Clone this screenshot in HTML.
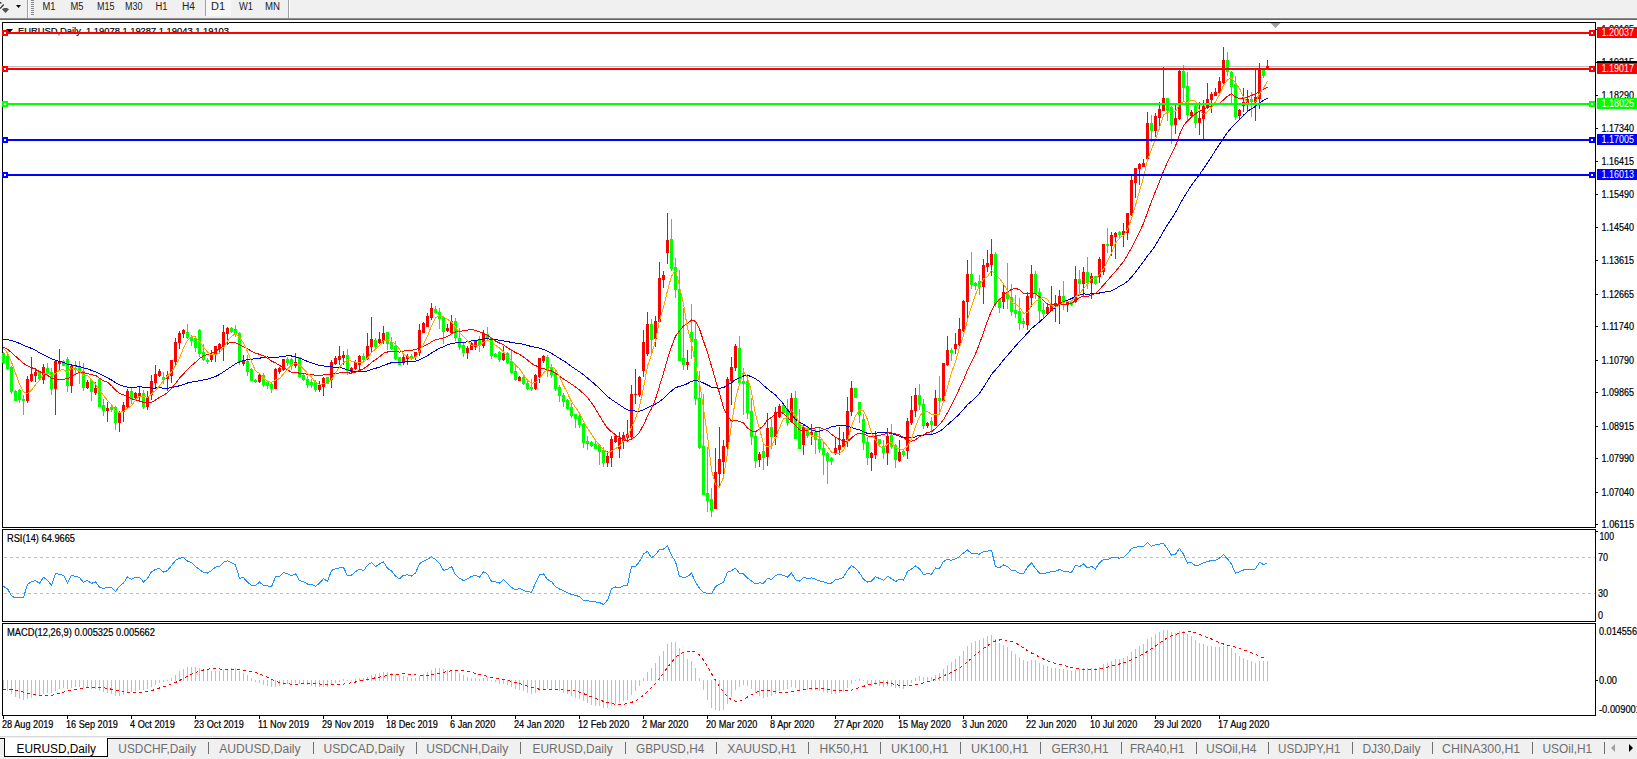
<!DOCTYPE html>
<html><head><meta charset="utf-8"><title>EURUSD,Daily</title>
<style>html,body{margin:0;padding:0;background:#fff;overflow:hidden;width:1637px;height:759px;font-family:"Liberation Sans", sans-serif;} svg{display:block;}</style>
</head><body>
<svg width="1637" height="759" viewBox="0 0 1637 759" font-family='"Liberation Sans", sans-serif'><rect x="0" y="0" width="1637" height="18" fill="#f0f0f0" />
<rect x="0" y="18" width="1637" height="1" fill="#8c8c8c" />
<rect x="0" y="19" width="1637" height="1" fill="#666666" />
<rect x="0" y="20" width="1637" height="2" fill="#ffffff" />
<path d="M0 1.8 L1.2 2.2 L2 3.5 L0 3.5 Z" fill="#333"/>
<path d="M3.2 3.9 L4.2 4.9 L0.6 9 L0 8.3 L0 7.8 Z" fill="#333"/>
<path d="M2 9.3 L4 8 L7 8 L9 9.3 L5.5 13 Z" fill="#505050"/>
<path d="M16 5 L21 5 L18.5 8 Z" fill="#000"/>
<rect x="27" y="0" width="1" height="18" fill="#a0a0a0" />
<rect x="28" y="0" width="1" height="18" fill="#ffffff" />
<rect x="31" y="0" width="3" height="1" fill="#8a8a8a" />
<rect x="31" y="2" width="3" height="1" fill="#8a8a8a" />
<rect x="31" y="4" width="3" height="1" fill="#8a8a8a" />
<rect x="31" y="6" width="3" height="1" fill="#8a8a8a" />
<rect x="31" y="8" width="3" height="1" fill="#8a8a8a" />
<rect x="31" y="10" width="3" height="1" fill="#8a8a8a" />
<rect x="31" y="12" width="3" height="1" fill="#8a8a8a" />
<rect x="31" y="14" width="3" height="1" fill="#8a8a8a" />
<rect x="205" y="0" width="26" height="16" fill="#f7f7f7" />
<rect x="205" y="0" width="1" height="16" fill="#a0a0a0" />
<text x="42.5" y="10.4" font-size="10" fill="#222" textLength="13" lengthAdjust="spacingAndGlyphs" >M1</text>
<text x="70.5" y="10.4" font-size="10" fill="#222" textLength="13" lengthAdjust="spacingAndGlyphs" >M5</text>
<text x="97" y="10.4" font-size="10" fill="#222" textLength="17.5" lengthAdjust="spacingAndGlyphs" >M15</text>
<text x="125" y="10.4" font-size="10" fill="#222" textLength="17.5" lengthAdjust="spacingAndGlyphs" >M30</text>
<text x="155.5" y="10.4" font-size="10" fill="#222" textLength="12" lengthAdjust="spacingAndGlyphs" >H1</text>
<text x="182" y="10.4" font-size="10" fill="#222" textLength="13" lengthAdjust="spacingAndGlyphs" >H4</text>
<text x="211" y="10.4" font-size="10" fill="#222" textLength="14" lengthAdjust="spacingAndGlyphs" >D1</text>
<text x="239" y="10.4" font-size="10" fill="#222" textLength="14" lengthAdjust="spacingAndGlyphs" >W1</text>
<text x="265" y="10.4" font-size="10" fill="#222" textLength="15" lengthAdjust="spacingAndGlyphs" >MN</text>
<rect x="288" y="0" width="1" height="18" fill="#a0a0a0" />
<rect x="289" y="0" width="1" height="18" fill="#ffffff" />
<rect x="2" y="22" width="1594" height="1" fill="#000" />
<rect x="2" y="527" width="1594" height="1" fill="#000" />
<rect x="2" y="22" width="1" height="506" fill="#000" />
<rect x="1595" y="22" width="1" height="506" fill="#000" />
<rect x="2" y="529" width="1594" height="1" fill="#000" />
<rect x="2" y="621" width="1594" height="1" fill="#000" />
<rect x="2" y="529" width="1" height="93" fill="#000" />
<rect x="1595" y="529" width="1" height="93" fill="#000" />
<rect x="2" y="623" width="1594" height="1" fill="#000" />
<rect x="2" y="715" width="1594" height="1" fill="#000" />
<rect x="2" y="623" width="1" height="93" fill="#000" />
<rect x="1595" y="623" width="1" height="93" fill="#000" />
<rect x="3" y="66" width="1592" height="1" fill="#c0c0c0" />
<rect x="1596" y="29" width="2" height="1" fill="#000" />
<text x="1601.5" y="33" font-size="10" fill="#000" stroke="#000" stroke-width="0.2" textLength="32.5" lengthAdjust="spacingAndGlyphs" >1.20165</text>
<rect x="1596" y="62" width="2" height="1" fill="#000" />
<text x="1601.5" y="66" font-size="10" fill="#000" stroke="#000" stroke-width="0.2" textLength="32.5" lengthAdjust="spacingAndGlyphs" >1.19215</text>
<rect x="1596" y="95" width="2" height="1" fill="#000" />
<text x="1601.5" y="99" font-size="10" fill="#000" stroke="#000" stroke-width="0.2" textLength="32.5" lengthAdjust="spacingAndGlyphs" >1.18290</text>
<rect x="1596" y="128" width="2" height="1" fill="#000" />
<text x="1601.5" y="132" font-size="10" fill="#000" stroke="#000" stroke-width="0.2" textLength="32.5" lengthAdjust="spacingAndGlyphs" >1.17340</text>
<rect x="1596" y="161" width="2" height="1" fill="#000" />
<text x="1601.5" y="165" font-size="10" fill="#000" stroke="#000" stroke-width="0.2" textLength="32.5" lengthAdjust="spacingAndGlyphs" >1.16415</text>
<rect x="1596" y="194" width="2" height="1" fill="#000" />
<text x="1601.5" y="198" font-size="10" fill="#000" stroke="#000" stroke-width="0.2" textLength="32.5" lengthAdjust="spacingAndGlyphs" >1.15490</text>
<rect x="1596" y="227" width="2" height="1" fill="#000" />
<text x="1601.5" y="231" font-size="10" fill="#000" stroke="#000" stroke-width="0.2" textLength="32.5" lengthAdjust="spacingAndGlyphs" >1.14540</text>
<rect x="1596" y="260" width="2" height="1" fill="#000" />
<text x="1601.5" y="264" font-size="10" fill="#000" stroke="#000" stroke-width="0.2" textLength="32.5" lengthAdjust="spacingAndGlyphs" >1.13615</text>
<rect x="1596" y="294" width="2" height="1" fill="#000" />
<text x="1601.5" y="298" font-size="10" fill="#000" stroke="#000" stroke-width="0.2" textLength="32.5" lengthAdjust="spacingAndGlyphs" >1.12665</text>
<rect x="1596" y="326" width="2" height="1" fill="#000" />
<text x="1601.5" y="330" font-size="10" fill="#000" stroke="#000" stroke-width="0.2" textLength="32.5" lengthAdjust="spacingAndGlyphs" >1.11740</text>
<rect x="1596" y="360" width="2" height="1" fill="#000" />
<text x="1601.5" y="364" font-size="10" fill="#000" stroke="#000" stroke-width="0.2" textLength="32.5" lengthAdjust="spacingAndGlyphs" >1.10790</text>
<rect x="1596" y="392" width="2" height="1" fill="#000" />
<text x="1601.5" y="396" font-size="10" fill="#000" stroke="#000" stroke-width="0.2" textLength="32.5" lengthAdjust="spacingAndGlyphs" >1.09865</text>
<rect x="1596" y="426" width="2" height="1" fill="#000" />
<text x="1601.5" y="430" font-size="10" fill="#000" stroke="#000" stroke-width="0.2" textLength="32.5" lengthAdjust="spacingAndGlyphs" >1.08915</text>
<rect x="1596" y="458" width="2" height="1" fill="#000" />
<text x="1601.5" y="462" font-size="10" fill="#000" stroke="#000" stroke-width="0.2" textLength="32.5" lengthAdjust="spacingAndGlyphs" >1.07990</text>
<rect x="1596" y="492" width="2" height="1" fill="#000" />
<text x="1601.5" y="496" font-size="10" fill="#000" stroke="#000" stroke-width="0.2" textLength="32.5" lengthAdjust="spacingAndGlyphs" >1.07040</text>
<rect x="1596" y="524" width="2" height="1" fill="#000" />
<text x="1601.5" y="528" font-size="10" fill="#000" stroke="#000" stroke-width="0.2" textLength="32.5" lengthAdjust="spacingAndGlyphs" >1.06115</text>
<g shape-rendering="crispEdges"><rect x="3" y="352" width="1" height="12" fill="#00ff00"/><rect x="2" y="353" width="3" height="10" fill="#00ff00"/><rect x="7" y="354" width="1" height="16" fill="#00ff00"/><rect x="6" y="356" width="3" height="13" fill="#00ff00"/><rect x="11" y="366" width="1" height="28" fill="#00ff00"/><rect x="10" y="367" width="3" height="25" fill="#00ff00"/><rect x="15" y="390" width="1" height="11" fill="#00ff00"/><rect x="14" y="391" width="3" height="10" fill="#00ff00"/><rect x="19" y="389" width="1" height="14" fill="#00ff00"/><rect x="18" y="390" width="3" height="10" fill="#00ff00"/><rect x="23" y="395" width="1" height="20" fill="#00ff00"/><rect x="22" y="399" width="3" height="2" fill="#00ff00"/><rect x="27" y="376" width="1" height="27" fill="#ff0000"/><rect x="26" y="379" width="3" height="22" fill="#ff0000"/><rect x="31" y="357" width="1" height="25" fill="#ff0000"/><rect x="30" y="374" width="3" height="7" fill="#ff0000"/><rect x="35" y="368" width="1" height="14" fill="#ff0000"/><rect x="34" y="372" width="3" height="4" fill="#ff0000"/><rect x="39" y="371" width="1" height="9" fill="#00ff00"/><rect x="38" y="372" width="3" height="7" fill="#00ff00"/><rect x="43" y="364" width="1" height="20" fill="#ff0000"/><rect x="42" y="367" width="3" height="13" fill="#ff0000"/><rect x="47" y="363" width="1" height="13" fill="#00ff00"/><rect x="46" y="368" width="3" height="6" fill="#00ff00"/><rect x="51" y="368" width="1" height="27" fill="#00ff00"/><rect x="50" y="372" width="3" height="17" fill="#00ff00"/><rect x="55" y="360" width="1" height="55" fill="#ff0000"/><rect x="54" y="361" width="3" height="28" fill="#ff0000"/><rect x="59" y="349" width="1" height="21" fill="#ff0000"/><rect x="58" y="362" width="3" height="2" fill="#ff0000"/><rect x="63" y="360" width="1" height="6" fill="#00ff00"/><rect x="62" y="361" width="3" height="5" fill="#00ff00"/><rect x="67" y="357" width="1" height="35" fill="#00ff00"/><rect x="66" y="359" width="3" height="27" fill="#00ff00"/><rect x="71" y="365" width="1" height="28" fill="#ff0000"/><rect x="70" y="366" width="3" height="20" fill="#ff0000"/><rect x="75" y="361" width="1" height="13" fill="#00ff00"/><rect x="74" y="368" width="3" height="2" fill="#00ff00"/><rect x="79" y="361" width="1" height="23" fill="#00ff00"/><rect x="78" y="366" width="3" height="7" fill="#00ff00"/><rect x="83" y="363" width="1" height="28" fill="#00ff00"/><rect x="82" y="371" width="3" height="17" fill="#00ff00"/><rect x="87" y="380" width="1" height="9" fill="#ff0000"/><rect x="86" y="382" width="3" height="6" fill="#ff0000"/><rect x="91" y="379" width="1" height="22" fill="#00ff00"/><rect x="90" y="380" width="3" height="12" fill="#00ff00"/><rect x="95" y="382" width="1" height="13" fill="#ff0000"/><rect x="94" y="388" width="3" height="5" fill="#ff0000"/><rect x="99" y="379" width="1" height="28" fill="#00ff00"/><rect x="98" y="379" width="3" height="28" fill="#00ff00"/><rect x="103" y="399" width="1" height="17" fill="#00ff00"/><rect x="102" y="405" width="3" height="6" fill="#00ff00"/><rect x="107" y="402" width="1" height="20" fill="#ff0000"/><rect x="106" y="408" width="3" height="3" fill="#ff0000"/><rect x="111" y="405" width="1" height="7" fill="#00ff00"/><rect x="110" y="407" width="3" height="3" fill="#00ff00"/><rect x="115" y="406" width="1" height="24" fill="#00ff00"/><rect x="114" y="407" width="3" height="16" fill="#00ff00"/><rect x="119" y="411" width="1" height="21" fill="#ff0000"/><rect x="118" y="412" width="3" height="11" fill="#ff0000"/><rect x="123" y="402" width="1" height="20" fill="#ff0000"/><rect x="122" y="405" width="3" height="7" fill="#ff0000"/><rect x="127" y="389" width="1" height="19" fill="#ff0000"/><rect x="126" y="391" width="3" height="16" fill="#ff0000"/><rect x="131" y="387" width="1" height="17" fill="#00ff00"/><rect x="130" y="391" width="3" height="8" fill="#00ff00"/><rect x="135" y="392" width="1" height="7" fill="#ff0000"/><rect x="134" y="393" width="3" height="5" fill="#ff0000"/><rect x="139" y="387" width="1" height="15" fill="#ff0000"/><rect x="138" y="393" width="3" height="3" fill="#ff0000"/><rect x="143" y="390" width="1" height="19" fill="#00ff00"/><rect x="142" y="393" width="3" height="14" fill="#00ff00"/><rect x="147" y="391" width="1" height="19" fill="#ff0000"/><rect x="146" y="397" width="3" height="10" fill="#ff0000"/><rect x="151" y="375" width="1" height="25" fill="#ff0000"/><rect x="150" y="381" width="3" height="14" fill="#ff0000"/><rect x="155" y="365" width="1" height="22" fill="#ff0000"/><rect x="154" y="374" width="3" height="9" fill="#ff0000"/><rect x="159" y="369" width="1" height="8" fill="#ff0000"/><rect x="158" y="371" width="3" height="5" fill="#ff0000"/><rect x="163" y="372" width="1" height="12" fill="#00ff00"/><rect x="162" y="377" width="3" height="3" fill="#00ff00"/><rect x="167" y="371" width="1" height="20" fill="#ff0000"/><rect x="166" y="375" width="3" height="4" fill="#ff0000"/><rect x="171" y="360" width="1" height="23" fill="#ff0000"/><rect x="170" y="360" width="3" height="16" fill="#ff0000"/><rect x="175" y="338" width="1" height="28" fill="#ff0000"/><rect x="174" y="342" width="3" height="20" fill="#ff0000"/><rect x="179" y="331" width="1" height="18" fill="#ff0000"/><rect x="178" y="333" width="3" height="10" fill="#ff0000"/><rect x="183" y="329" width="1" height="9" fill="#ff0000"/><rect x="182" y="330" width="3" height="4" fill="#ff0000"/><rect x="187" y="324" width="1" height="15" fill="#00ff00"/><rect x="186" y="332" width="3" height="6" fill="#00ff00"/><rect x="191" y="335" width="1" height="11" fill="#00ff00"/><rect x="190" y="337" width="3" height="4" fill="#00ff00"/><rect x="195" y="336" width="1" height="16" fill="#00ff00"/><rect x="194" y="338" width="3" height="10" fill="#00ff00"/><rect x="199" y="329" width="1" height="28" fill="#00ff00"/><rect x="198" y="330" width="3" height="24" fill="#00ff00"/><rect x="203" y="344" width="1" height="17" fill="#00ff00"/><rect x="202" y="352" width="3" height="8" fill="#00ff00"/><rect x="207" y="358" width="1" height="6" fill="#00ff00"/><rect x="206" y="360" width="3" height="2" fill="#00ff00"/><rect x="211" y="350" width="1" height="12" fill="#ff0000"/><rect x="210" y="355" width="3" height="5" fill="#ff0000"/><rect x="215" y="346" width="1" height="16" fill="#ff0000"/><rect x="214" y="346" width="3" height="9" fill="#ff0000"/><rect x="219" y="343" width="1" height="9" fill="#ff0000"/><rect x="218" y="344" width="3" height="5" fill="#ff0000"/><rect x="223" y="325" width="1" height="36" fill="#ff0000"/><rect x="222" y="332" width="3" height="14" fill="#ff0000"/><rect x="227" y="327" width="1" height="18" fill="#ff0000"/><rect x="226" y="328" width="3" height="6" fill="#ff0000"/><rect x="231" y="327" width="1" height="6" fill="#00ff00"/><rect x="230" y="328" width="3" height="4" fill="#00ff00"/><rect x="235" y="325" width="1" height="12" fill="#00ff00"/><rect x="234" y="329" width="3" height="6" fill="#00ff00"/><rect x="239" y="332" width="1" height="33" fill="#00ff00"/><rect x="238" y="333" width="3" height="29" fill="#00ff00"/><rect x="243" y="355" width="1" height="11" fill="#ff0000"/><rect x="242" y="360" width="3" height="4" fill="#ff0000"/><rect x="247" y="355" width="1" height="21" fill="#00ff00"/><rect x="246" y="361" width="3" height="11" fill="#00ff00"/><rect x="251" y="368" width="1" height="13" fill="#00ff00"/><rect x="250" y="369" width="3" height="12" fill="#00ff00"/><rect x="255" y="379" width="1" height="4" fill="#00ff00"/><rect x="254" y="380" width="3" height="2" fill="#00ff00"/><rect x="259" y="373" width="1" height="10" fill="#ff0000"/><rect x="258" y="375" width="3" height="7" fill="#ff0000"/><rect x="263" y="373" width="1" height="14" fill="#00ff00"/><rect x="262" y="375" width="3" height="10" fill="#00ff00"/><rect x="267" y="380" width="1" height="9" fill="#00ff00"/><rect x="266" y="382" width="3" height="4" fill="#00ff00"/><rect x="271" y="383" width="1" height="10" fill="#00ff00"/><rect x="270" y="384" width="3" height="5" fill="#00ff00"/><rect x="275" y="368" width="1" height="21" fill="#ff0000"/><rect x="274" y="369" width="3" height="20" fill="#ff0000"/><rect x="279" y="367" width="1" height="7" fill="#ff0000"/><rect x="278" y="368" width="3" height="4" fill="#ff0000"/><rect x="283" y="359" width="1" height="12" fill="#ff0000"/><rect x="282" y="359" width="3" height="11" fill="#ff0000"/><rect x="287" y="357" width="1" height="9" fill="#00ff00"/><rect x="286" y="359" width="3" height="4" fill="#00ff00"/><rect x="291" y="358" width="1" height="12" fill="#00ff00"/><rect x="290" y="359" width="3" height="7" fill="#00ff00"/><rect x="295" y="353" width="1" height="15" fill="#ff0000"/><rect x="294" y="362" width="3" height="4" fill="#ff0000"/><rect x="299" y="357" width="1" height="21" fill="#00ff00"/><rect x="298" y="357" width="3" height="20" fill="#00ff00"/><rect x="303" y="374" width="1" height="7" fill="#00ff00"/><rect x="302" y="375" width="3" height="5" fill="#00ff00"/><rect x="307" y="376" width="1" height="12" fill="#00ff00"/><rect x="306" y="379" width="3" height="6" fill="#00ff00"/><rect x="311" y="379" width="1" height="9" fill="#00ff00"/><rect x="310" y="382" width="3" height="3" fill="#00ff00"/><rect x="315" y="380" width="1" height="12" fill="#00ff00"/><rect x="314" y="382" width="3" height="8" fill="#00ff00"/><rect x="319" y="381" width="1" height="11" fill="#ff0000"/><rect x="318" y="385" width="3" height="5" fill="#ff0000"/><rect x="323" y="377" width="1" height="19" fill="#ff0000"/><rect x="322" y="378" width="3" height="9" fill="#ff0000"/><rect x="327" y="377" width="1" height="7" fill="#00ff00"/><rect x="326" y="377" width="3" height="7" fill="#00ff00"/><rect x="331" y="360" width="1" height="28" fill="#ff0000"/><rect x="330" y="362" width="3" height="18" fill="#ff0000"/><rect x="335" y="356" width="1" height="9" fill="#ff0000"/><rect x="334" y="358" width="3" height="6" fill="#ff0000"/><rect x="339" y="346" width="1" height="19" fill="#ff0000"/><rect x="338" y="356" width="3" height="4" fill="#ff0000"/><rect x="343" y="351" width="1" height="14" fill="#ff0000"/><rect x="342" y="355" width="3" height="3" fill="#ff0000"/><rect x="347" y="349" width="1" height="26" fill="#00ff00"/><rect x="346" y="355" width="3" height="16" fill="#00ff00"/><rect x="351" y="367" width="1" height="6" fill="#ff0000"/><rect x="350" y="368" width="3" height="4" fill="#ff0000"/><rect x="355" y="360" width="1" height="10" fill="#ff0000"/><rect x="354" y="362" width="3" height="7" fill="#ff0000"/><rect x="359" y="355" width="1" height="15" fill="#ff0000"/><rect x="358" y="356" width="3" height="9" fill="#ff0000"/><rect x="363" y="353" width="1" height="9" fill="#00ff00"/><rect x="362" y="356" width="3" height="4" fill="#00ff00"/><rect x="367" y="333" width="1" height="27" fill="#ff0000"/><rect x="366" y="346" width="3" height="13" fill="#ff0000"/><rect x="371" y="317" width="1" height="35" fill="#ff0000"/><rect x="370" y="339" width="3" height="8" fill="#ff0000"/><rect x="375" y="338" width="1" height="12" fill="#00ff00"/><rect x="374" y="340" width="3" height="7" fill="#00ff00"/><rect x="379" y="332" width="1" height="12" fill="#ff0000"/><rect x="378" y="339" width="3" height="4" fill="#ff0000"/><rect x="383" y="326" width="1" height="18" fill="#ff0000"/><rect x="382" y="333" width="3" height="8" fill="#ff0000"/><rect x="387" y="332" width="1" height="18" fill="#00ff00"/><rect x="386" y="332" width="3" height="12" fill="#00ff00"/><rect x="391" y="337" width="1" height="13" fill="#00ff00"/><rect x="390" y="342" width="3" height="7" fill="#00ff00"/><rect x="395" y="341" width="1" height="19" fill="#00ff00"/><rect x="394" y="346" width="3" height="13" fill="#00ff00"/><rect x="399" y="357" width="1" height="8" fill="#00ff00"/><rect x="398" y="357" width="3" height="8" fill="#00ff00"/><rect x="403" y="354" width="1" height="11" fill="#ff0000"/><rect x="402" y="357" width="3" height="5" fill="#ff0000"/><rect x="407" y="354" width="1" height="11" fill="#ff0000"/><rect x="406" y="356" width="3" height="3" fill="#ff0000"/><rect x="411" y="354" width="1" height="6" fill="#00ff00"/><rect x="410" y="356" width="3" height="3" fill="#00ff00"/><rect x="415" y="352" width="1" height="8" fill="#ff0000"/><rect x="414" y="352" width="3" height="5" fill="#ff0000"/><rect x="419" y="324" width="1" height="32" fill="#ff0000"/><rect x="418" y="330" width="3" height="23" fill="#ff0000"/><rect x="423" y="322" width="1" height="11" fill="#ff0000"/><rect x="422" y="323" width="3" height="10" fill="#ff0000"/><rect x="427" y="313" width="1" height="14" fill="#ff0000"/><rect x="426" y="316" width="3" height="11" fill="#ff0000"/><rect x="431" y="303" width="1" height="17" fill="#ff0000"/><rect x="430" y="308" width="3" height="10" fill="#ff0000"/><rect x="435" y="306" width="1" height="8" fill="#00ff00"/><rect x="434" y="309" width="3" height="4" fill="#00ff00"/><rect x="439" y="308" width="1" height="21" fill="#00ff00"/><rect x="438" y="312" width="3" height="7" fill="#00ff00"/><rect x="443" y="316" width="1" height="28" fill="#00ff00"/><rect x="442" y="317" width="3" height="15" fill="#00ff00"/><rect x="447" y="324" width="1" height="8" fill="#ff0000"/><rect x="446" y="328" width="3" height="3" fill="#ff0000"/><rect x="451" y="315" width="1" height="19" fill="#ff0000"/><rect x="450" y="321" width="3" height="12" fill="#ff0000"/><rect x="455" y="318" width="1" height="23" fill="#00ff00"/><rect x="454" y="321" width="3" height="17" fill="#00ff00"/><rect x="459" y="328" width="1" height="22" fill="#00ff00"/><rect x="458" y="338" width="3" height="9" fill="#00ff00"/><rect x="463" y="343" width="1" height="14" fill="#00ff00"/><rect x="462" y="345" width="3" height="8" fill="#00ff00"/><rect x="467" y="346" width="1" height="13" fill="#ff0000"/><rect x="466" y="348" width="3" height="5" fill="#ff0000"/><rect x="471" y="342" width="1" height="8" fill="#ff0000"/><rect x="470" y="343" width="3" height="7" fill="#ff0000"/><rect x="475" y="340" width="1" height="10" fill="#ff0000"/><rect x="474" y="341" width="3" height="6" fill="#ff0000"/><rect x="479" y="336" width="1" height="16" fill="#00ff00"/><rect x="478" y="340" width="3" height="6" fill="#00ff00"/><rect x="483" y="330" width="1" height="18" fill="#ff0000"/><rect x="482" y="333" width="3" height="13" fill="#ff0000"/><rect x="487" y="327" width="1" height="14" fill="#00ff00"/><rect x="486" y="334" width="3" height="5" fill="#00ff00"/><rect x="491" y="337" width="1" height="22" fill="#00ff00"/><rect x="490" y="338" width="3" height="18" fill="#00ff00"/><rect x="495" y="353" width="1" height="4" fill="#00ff00"/><rect x="494" y="354" width="3" height="3" fill="#00ff00"/><rect x="499" y="351" width="1" height="11" fill="#00ff00"/><rect x="498" y="352" width="3" height="8" fill="#00ff00"/><rect x="503" y="346" width="1" height="15" fill="#ff0000"/><rect x="502" y="353" width="3" height="7" fill="#ff0000"/><rect x="507" y="352" width="1" height="12" fill="#00ff00"/><rect x="506" y="353" width="3" height="10" fill="#00ff00"/><rect x="511" y="349" width="1" height="25" fill="#00ff00"/><rect x="510" y="361" width="3" height="12" fill="#00ff00"/><rect x="515" y="366" width="1" height="15" fill="#00ff00"/><rect x="514" y="371" width="3" height="9" fill="#00ff00"/><rect x="519" y="376" width="1" height="5" fill="#ff0000"/><rect x="518" y="377" width="3" height="4" fill="#ff0000"/><rect x="523" y="375" width="1" height="10" fill="#00ff00"/><rect x="522" y="377" width="3" height="7" fill="#00ff00"/><rect x="527" y="379" width="1" height="11" fill="#00ff00"/><rect x="526" y="383" width="3" height="6" fill="#00ff00"/><rect x="531" y="379" width="1" height="12" fill="#00ff00"/><rect x="530" y="387" width="3" height="2" fill="#00ff00"/><rect x="535" y="374" width="1" height="16" fill="#ff0000"/><rect x="534" y="375" width="3" height="14" fill="#ff0000"/><rect x="539" y="358" width="1" height="25" fill="#ff0000"/><rect x="538" y="358" width="3" height="19" fill="#ff0000"/><rect x="543" y="355" width="1" height="8" fill="#ff0000"/><rect x="542" y="356" width="3" height="5" fill="#ff0000"/><rect x="547" y="355" width="1" height="22" fill="#00ff00"/><rect x="546" y="357" width="3" height="13" fill="#00ff00"/><rect x="551" y="364" width="1" height="14" fill="#00ff00"/><rect x="550" y="368" width="3" height="7" fill="#00ff00"/><rect x="555" y="370" width="1" height="21" fill="#00ff00"/><rect x="554" y="373" width="3" height="16" fill="#00ff00"/><rect x="559" y="385" width="1" height="17" fill="#00ff00"/><rect x="558" y="387" width="3" height="9" fill="#00ff00"/><rect x="563" y="393" width="1" height="14" fill="#00ff00"/><rect x="562" y="395" width="3" height="7" fill="#00ff00"/><rect x="567" y="399" width="1" height="11" fill="#00ff00"/><rect x="566" y="400" width="3" height="9" fill="#00ff00"/><rect x="571" y="403" width="1" height="15" fill="#00ff00"/><rect x="570" y="407" width="3" height="9" fill="#00ff00"/><rect x="575" y="414" width="1" height="14" fill="#00ff00"/><rect x="574" y="414" width="3" height="5" fill="#00ff00"/><rect x="579" y="414" width="1" height="14" fill="#00ff00"/><rect x="578" y="416" width="3" height="9" fill="#00ff00"/><rect x="583" y="423" width="1" height="25" fill="#00ff00"/><rect x="582" y="424" width="3" height="19" fill="#00ff00"/><rect x="587" y="436" width="1" height="14" fill="#00ff00"/><rect x="586" y="441" width="3" height="3" fill="#00ff00"/><rect x="591" y="441" width="1" height="6" fill="#00ff00"/><rect x="590" y="442" width="3" height="4" fill="#00ff00"/><rect x="595" y="441" width="1" height="8" fill="#00ff00"/><rect x="594" y="444" width="3" height="5" fill="#00ff00"/><rect x="599" y="444" width="1" height="21" fill="#00ff00"/><rect x="598" y="445" width="3" height="7" fill="#00ff00"/><rect x="603" y="447" width="1" height="20" fill="#00ff00"/><rect x="602" y="450" width="3" height="13" fill="#00ff00"/><rect x="607" y="451" width="1" height="16" fill="#ff0000"/><rect x="606" y="456" width="3" height="7" fill="#ff0000"/><rect x="611" y="436" width="1" height="31" fill="#ff0000"/><rect x="610" y="439" width="3" height="19" fill="#ff0000"/><rect x="615" y="435" width="1" height="8" fill="#ff0000"/><rect x="614" y="436" width="3" height="6" fill="#ff0000"/><rect x="619" y="432" width="1" height="26" fill="#ff0000"/><rect x="618" y="438" width="3" height="11" fill="#ff0000"/><rect x="623" y="432" width="1" height="17" fill="#ff0000"/><rect x="622" y="435" width="3" height="6" fill="#ff0000"/><rect x="627" y="420" width="1" height="22" fill="#ff0000"/><rect x="626" y="434" width="3" height="4" fill="#ff0000"/><rect x="631" y="385" width="1" height="53" fill="#ff0000"/><rect x="630" y="394" width="3" height="43" fill="#ff0000"/><rect x="635" y="369" width="1" height="35" fill="#ff0000"/><rect x="634" y="394" width="3" height="1" fill="#ff0000"/><rect x="639" y="376" width="1" height="21" fill="#ff0000"/><rect x="638" y="377" width="3" height="18" fill="#ff0000"/><rect x="643" y="330" width="1" height="47" fill="#ff0000"/><rect x="642" y="342" width="3" height="29" fill="#ff0000"/><rect x="647" y="312" width="1" height="44" fill="#ff0000"/><rect x="646" y="324" width="3" height="30" fill="#ff0000"/><rect x="651" y="319" width="1" height="36" fill="#00ff00"/><rect x="650" y="324" width="3" height="16" fill="#00ff00"/><rect x="655" y="316" width="1" height="31" fill="#ff0000"/><rect x="654" y="321" width="3" height="18" fill="#ff0000"/><rect x="659" y="262" width="1" height="61" fill="#ff0000"/><rect x="658" y="278" width="3" height="44" fill="#ff0000"/><rect x="663" y="271" width="1" height="17" fill="#ff0000"/><rect x="662" y="275" width="3" height="5" fill="#ff0000"/><rect x="667" y="213" width="1" height="51" fill="#ff0000"/><rect x="666" y="240" width="3" height="13" fill="#ff0000"/><rect x="671" y="219" width="1" height="52" fill="#00ff00"/><rect x="670" y="239" width="3" height="30" fill="#00ff00"/><rect x="675" y="258" width="1" height="40" fill="#00ff00"/><rect x="674" y="267" width="3" height="23" fill="#00ff00"/><rect x="679" y="270" width="1" height="91" fill="#00ff00"/><rect x="678" y="289" width="3" height="72" fill="#00ff00"/><rect x="683" y="308" width="1" height="62" fill="#00ff00"/><rect x="682" y="358" width="3" height="7" fill="#00ff00"/><rect x="687" y="350" width="1" height="20" fill="#ff0000"/><rect x="686" y="362" width="3" height="3" fill="#ff0000"/><rect x="691" y="304" width="1" height="55" fill="#00ff00"/><rect x="690" y="332" width="3" height="10" fill="#00ff00"/><rect x="695" y="322" width="1" height="83" fill="#00ff00"/><rect x="694" y="339" width="3" height="60" fill="#00ff00"/><rect x="699" y="371" width="1" height="78" fill="#00ff00"/><rect x="698" y="398" width="3" height="50" fill="#00ff00"/><rect x="703" y="394" width="1" height="101" fill="#00ff00"/><rect x="702" y="446" width="3" height="49" fill="#00ff00"/><rect x="707" y="447" width="1" height="65" fill="#00ff00"/><rect x="706" y="493" width="3" height="8" fill="#00ff00"/><rect x="711" y="488" width="1" height="29" fill="#00ff00"/><rect x="710" y="499" width="3" height="12" fill="#00ff00"/><rect x="715" y="448" width="1" height="61" fill="#ff0000"/><rect x="714" y="472" width="3" height="37" fill="#ff0000"/><rect x="719" y="427" width="1" height="61" fill="#ff0000"/><rect x="718" y="459" width="3" height="15" fill="#ff0000"/><rect x="723" y="440" width="1" height="35" fill="#ff0000"/><rect x="722" y="446" width="3" height="16" fill="#ff0000"/><rect x="727" y="377" width="1" height="72" fill="#ff0000"/><rect x="726" y="379" width="3" height="68" fill="#ff0000"/><rect x="731" y="357" width="1" height="48" fill="#ff0000"/><rect x="730" y="367" width="3" height="14" fill="#ff0000"/><rect x="735" y="344" width="1" height="27" fill="#ff0000"/><rect x="734" y="346" width="3" height="22" fill="#ff0000"/><rect x="739" y="336" width="1" height="47" fill="#00ff00"/><rect x="738" y="348" width="3" height="35" fill="#00ff00"/><rect x="743" y="368" width="1" height="47" fill="#00ff00"/><rect x="742" y="381" width="3" height="3" fill="#00ff00"/><rect x="747" y="374" width="1" height="45" fill="#00ff00"/><rect x="746" y="381" width="3" height="32" fill="#00ff00"/><rect x="751" y="398" width="1" height="47" fill="#00ff00"/><rect x="750" y="411" width="3" height="26" fill="#00ff00"/><rect x="755" y="432" width="1" height="36" fill="#00ff00"/><rect x="754" y="436" width="3" height="25" fill="#00ff00"/><rect x="759" y="452" width="1" height="15" fill="#ff0000"/><rect x="758" y="454" width="3" height="6" fill="#ff0000"/><rect x="763" y="444" width="1" height="26" fill="#00ff00"/><rect x="762" y="451" width="3" height="7" fill="#00ff00"/><rect x="767" y="413" width="1" height="53" fill="#ff0000"/><rect x="766" y="428" width="3" height="29" fill="#ff0000"/><rect x="771" y="419" width="1" height="30" fill="#00ff00"/><rect x="770" y="427" width="3" height="10" fill="#00ff00"/><rect x="775" y="407" width="1" height="38" fill="#ff0000"/><rect x="774" y="412" width="3" height="25" fill="#ff0000"/><rect x="779" y="404" width="1" height="14" fill="#ff0000"/><rect x="778" y="406" width="3" height="11" fill="#ff0000"/><rect x="783" y="404" width="1" height="10" fill="#00ff00"/><rect x="782" y="405" width="3" height="8" fill="#00ff00"/><rect x="787" y="399" width="1" height="27" fill="#00ff00"/><rect x="786" y="409" width="3" height="14" fill="#00ff00"/><rect x="791" y="393" width="1" height="30" fill="#ff0000"/><rect x="790" y="398" width="3" height="24" fill="#ff0000"/><rect x="795" y="391" width="1" height="48" fill="#00ff00"/><rect x="794" y="398" width="3" height="41" fill="#00ff00"/><rect x="799" y="409" width="1" height="40" fill="#00ff00"/><rect x="798" y="422" width="3" height="27" fill="#00ff00"/><rect x="803" y="425" width="1" height="30" fill="#ff0000"/><rect x="802" y="427" width="3" height="18" fill="#ff0000"/><rect x="807" y="426" width="1" height="12" fill="#00ff00"/><rect x="806" y="428" width="3" height="8" fill="#00ff00"/><rect x="811" y="424" width="1" height="21" fill="#ff0000"/><rect x="810" y="432" width="3" height="3" fill="#ff0000"/><rect x="815" y="429" width="1" height="25" fill="#00ff00"/><rect x="814" y="432" width="3" height="8" fill="#00ff00"/><rect x="819" y="428" width="1" height="25" fill="#00ff00"/><rect x="818" y="439" width="3" height="10" fill="#00ff00"/><rect x="823" y="442" width="1" height="33" fill="#00ff00"/><rect x="822" y="448" width="3" height="7" fill="#00ff00"/><rect x="827" y="452" width="1" height="32" fill="#00ff00"/><rect x="826" y="453" width="3" height="8" fill="#00ff00"/><rect x="831" y="457" width="1" height="8" fill="#00ff00"/><rect x="830" y="458" width="3" height="3" fill="#00ff00"/><rect x="835" y="437" width="1" height="18" fill="#ff0000"/><rect x="834" y="448" width="3" height="6" fill="#ff0000"/><rect x="839" y="427" width="1" height="28" fill="#ff0000"/><rect x="838" y="445" width="3" height="5" fill="#ff0000"/><rect x="843" y="432" width="1" height="15" fill="#ff0000"/><rect x="842" y="439" width="3" height="8" fill="#ff0000"/><rect x="847" y="397" width="1" height="50" fill="#ff0000"/><rect x="846" y="411" width="3" height="29" fill="#ff0000"/><rect x="851" y="381" width="1" height="35" fill="#ff0000"/><rect x="850" y="388" width="3" height="24" fill="#ff0000"/><rect x="855" y="388" width="1" height="10" fill="#00ff00"/><rect x="854" y="388" width="3" height="10" fill="#00ff00"/><rect x="859" y="402" width="1" height="21" fill="#00ff00"/><rect x="858" y="402" width="3" height="13" fill="#00ff00"/><rect x="863" y="414" width="1" height="36" fill="#00ff00"/><rect x="862" y="419" width="3" height="24" fill="#00ff00"/><rect x="867" y="437" width="1" height="28" fill="#00ff00"/><rect x="866" y="442" width="3" height="16" fill="#00ff00"/><rect x="871" y="452" width="1" height="19" fill="#ff0000"/><rect x="870" y="453" width="3" height="5" fill="#ff0000"/><rect x="875" y="431" width="1" height="28" fill="#ff0000"/><rect x="874" y="436" width="3" height="19" fill="#ff0000"/><rect x="879" y="439" width="1" height="6" fill="#00ff00"/><rect x="878" y="439" width="3" height="5" fill="#00ff00"/><rect x="883" y="440" width="1" height="19" fill="#00ff00"/><rect x="882" y="446" width="3" height="7" fill="#00ff00"/><rect x="887" y="428" width="1" height="37" fill="#ff0000"/><rect x="886" y="436" width="3" height="17" fill="#ff0000"/><rect x="891" y="424" width="1" height="25" fill="#00ff00"/><rect x="890" y="435" width="3" height="12" fill="#00ff00"/><rect x="895" y="444" width="1" height="24" fill="#00ff00"/><rect x="894" y="445" width="3" height="15" fill="#00ff00"/><rect x="899" y="440" width="1" height="22" fill="#ff0000"/><rect x="898" y="452" width="3" height="9" fill="#ff0000"/><rect x="903" y="449" width="1" height="8" fill="#00ff00"/><rect x="902" y="451" width="3" height="4" fill="#00ff00"/><rect x="907" y="418" width="1" height="41" fill="#ff0000"/><rect x="906" y="421" width="3" height="30" fill="#ff0000"/><rect x="911" y="396" width="1" height="29" fill="#ff0000"/><rect x="910" y="410" width="3" height="13" fill="#ff0000"/><rect x="915" y="388" width="1" height="29" fill="#ff0000"/><rect x="914" y="395" width="3" height="16" fill="#ff0000"/><rect x="919" y="384" width="1" height="26" fill="#00ff00"/><rect x="918" y="395" width="3" height="10" fill="#00ff00"/><rect x="923" y="399" width="1" height="30" fill="#00ff00"/><rect x="922" y="404" width="3" height="22" fill="#00ff00"/><rect x="927" y="422" width="1" height="6" fill="#ff0000"/><rect x="926" y="423" width="3" height="3" fill="#ff0000"/><rect x="931" y="417" width="1" height="17" fill="#00ff00"/><rect x="930" y="421" width="3" height="4" fill="#00ff00"/><rect x="935" y="390" width="1" height="36" fill="#ff0000"/><rect x="934" y="398" width="3" height="28" fill="#ff0000"/><rect x="939" y="376" width="1" height="36" fill="#00ff00"/><rect x="938" y="398" width="3" height="3" fill="#00ff00"/><rect x="943" y="363" width="1" height="38" fill="#ff0000"/><rect x="942" y="363" width="3" height="38" fill="#ff0000"/><rect x="947" y="336" width="1" height="30" fill="#ff0000"/><rect x="946" y="350" width="3" height="15" fill="#ff0000"/><rect x="951" y="348" width="1" height="13" fill="#00ff00"/><rect x="950" y="350" width="3" height="3" fill="#00ff00"/><rect x="955" y="333" width="1" height="21" fill="#ff0000"/><rect x="954" y="344" width="3" height="5" fill="#ff0000"/><rect x="959" y="318" width="1" height="30" fill="#ff0000"/><rect x="958" y="329" width="3" height="16" fill="#ff0000"/><rect x="963" y="300" width="1" height="32" fill="#ff0000"/><rect x="962" y="301" width="3" height="30" fill="#ff0000"/><rect x="967" y="260" width="1" height="59" fill="#ff0000"/><rect x="966" y="274" width="3" height="28" fill="#ff0000"/><rect x="971" y="252" width="1" height="37" fill="#00ff00"/><rect x="970" y="274" width="3" height="11" fill="#00ff00"/><rect x="975" y="282" width="1" height="8" fill="#00ff00"/><rect x="974" y="283" width="3" height="3" fill="#00ff00"/><rect x="979" y="275" width="1" height="20" fill="#00ff00"/><rect x="978" y="281" width="3" height="6" fill="#00ff00"/><rect x="983" y="259" width="1" height="45" fill="#ff0000"/><rect x="982" y="265" width="3" height="22" fill="#ff0000"/><rect x="987" y="250" width="1" height="22" fill="#ff0000"/><rect x="986" y="263" width="3" height="4" fill="#ff0000"/><rect x="991" y="239" width="1" height="37" fill="#ff0000"/><rect x="990" y="254" width="3" height="11" fill="#ff0000"/><rect x="995" y="252" width="1" height="55" fill="#00ff00"/><rect x="994" y="254" width="3" height="50" fill="#00ff00"/><rect x="999" y="298" width="1" height="15" fill="#00ff00"/><rect x="998" y="299" width="3" height="9" fill="#00ff00"/><rect x="1003" y="284" width="1" height="25" fill="#ff0000"/><rect x="1002" y="292" width="3" height="10" fill="#ff0000"/><rect x="1007" y="263" width="1" height="46" fill="#00ff00"/><rect x="1006" y="292" width="3" height="7" fill="#00ff00"/><rect x="1011" y="284" width="1" height="32" fill="#00ff00"/><rect x="1010" y="297" width="3" height="15" fill="#00ff00"/><rect x="1015" y="295" width="1" height="23" fill="#00ff00"/><rect x="1014" y="310" width="3" height="4" fill="#00ff00"/><rect x="1019" y="298" width="1" height="32" fill="#00ff00"/><rect x="1018" y="311" width="3" height="12" fill="#00ff00"/><rect x="1023" y="318" width="1" height="10" fill="#00ff00"/><rect x="1022" y="321" width="3" height="3" fill="#00ff00"/><rect x="1027" y="292" width="1" height="38" fill="#ff0000"/><rect x="1026" y="296" width="3" height="29" fill="#ff0000"/><rect x="1031" y="265" width="1" height="42" fill="#ff0000"/><rect x="1030" y="274" width="3" height="24" fill="#ff0000"/><rect x="1035" y="271" width="1" height="28" fill="#00ff00"/><rect x="1034" y="274" width="3" height="20" fill="#00ff00"/><rect x="1039" y="288" width="1" height="34" fill="#00ff00"/><rect x="1038" y="292" width="3" height="19" fill="#00ff00"/><rect x="1043" y="303" width="1" height="16" fill="#00ff00"/><rect x="1042" y="310" width="3" height="4" fill="#00ff00"/><rect x="1047" y="303" width="1" height="11" fill="#ff0000"/><rect x="1046" y="307" width="3" height="7" fill="#ff0000"/><rect x="1051" y="286" width="1" height="25" fill="#ff0000"/><rect x="1050" y="305" width="3" height="6" fill="#ff0000"/><rect x="1055" y="295" width="1" height="27" fill="#ff0000"/><rect x="1054" y="303" width="3" height="3" fill="#ff0000"/><rect x="1059" y="290" width="1" height="34" fill="#ff0000"/><rect x="1058" y="296" width="3" height="8" fill="#ff0000"/><rect x="1063" y="281" width="1" height="29" fill="#00ff00"/><rect x="1062" y="296" width="3" height="6" fill="#00ff00"/><rect x="1067" y="302" width="1" height="10" fill="#ff0000"/><rect x="1066" y="302" width="3" height="3" fill="#ff0000"/><rect x="1071" y="301" width="1" height="5" fill="#00ff00"/><rect x="1070" y="302" width="3" height="3" fill="#00ff00"/><rect x="1075" y="266" width="1" height="37" fill="#ff0000"/><rect x="1074" y="279" width="3" height="23" fill="#ff0000"/><rect x="1079" y="270" width="1" height="26" fill="#00ff00"/><rect x="1078" y="279" width="3" height="5" fill="#00ff00"/><rect x="1083" y="267" width="1" height="30" fill="#ff0000"/><rect x="1082" y="272" width="3" height="12" fill="#ff0000"/><rect x="1087" y="257" width="1" height="32" fill="#00ff00"/><rect x="1086" y="272" width="3" height="11" fill="#00ff00"/><rect x="1091" y="273" width="1" height="26" fill="#ff0000"/><rect x="1090" y="276" width="3" height="7" fill="#ff0000"/><rect x="1095" y="276" width="1" height="9" fill="#00ff00"/><rect x="1094" y="276" width="3" height="8" fill="#00ff00"/><rect x="1099" y="257" width="1" height="26" fill="#ff0000"/><rect x="1098" y="259" width="3" height="18" fill="#ff0000"/><rect x="1103" y="244" width="1" height="31" fill="#ff0000"/><rect x="1102" y="244" width="3" height="28" fill="#ff0000"/><rect x="1107" y="228" width="1" height="25" fill="#00ff00"/><rect x="1106" y="244" width="3" height="2" fill="#00ff00"/><rect x="1111" y="232" width="1" height="24" fill="#ff0000"/><rect x="1110" y="235" width="3" height="11" fill="#ff0000"/><rect x="1115" y="232" width="1" height="27" fill="#ff0000"/><rect x="1114" y="233" width="3" height="4" fill="#ff0000"/><rect x="1119" y="231" width="1" height="7" fill="#00ff00"/><rect x="1118" y="232" width="3" height="3" fill="#00ff00"/><rect x="1123" y="223" width="1" height="24" fill="#ff0000"/><rect x="1122" y="231" width="3" height="4" fill="#ff0000"/><rect x="1127" y="213" width="1" height="27" fill="#ff0000"/><rect x="1126" y="213" width="3" height="20" fill="#ff0000"/><rect x="1131" y="176" width="1" height="40" fill="#ff0000"/><rect x="1130" y="180" width="3" height="35" fill="#ff0000"/><rect x="1135" y="168" width="1" height="30" fill="#ff0000"/><rect x="1134" y="168" width="3" height="15" fill="#ff0000"/><rect x="1139" y="163" width="1" height="22" fill="#ff0000"/><rect x="1138" y="164" width="3" height="5" fill="#ff0000"/><rect x="1143" y="159" width="1" height="8" fill="#ff0000"/><rect x="1142" y="163" width="3" height="4" fill="#ff0000"/><rect x="1147" y="112" width="1" height="49" fill="#ff0000"/><rect x="1146" y="123" width="3" height="36" fill="#ff0000"/><rect x="1151" y="115" width="1" height="27" fill="#00ff00"/><rect x="1150" y="123" width="3" height="8" fill="#00ff00"/><rect x="1155" y="113" width="1" height="24" fill="#ff0000"/><rect x="1154" y="116" width="3" height="15" fill="#ff0000"/><rect x="1159" y="102" width="1" height="25" fill="#ff0000"/><rect x="1158" y="109" width="3" height="9" fill="#ff0000"/><rect x="1163" y="67" width="1" height="44" fill="#ff0000"/><rect x="1162" y="98" width="3" height="13" fill="#ff0000"/><rect x="1167" y="98" width="1" height="23" fill="#00ff00"/><rect x="1166" y="98" width="3" height="13" fill="#00ff00"/><rect x="1171" y="106" width="1" height="38" fill="#00ff00"/><rect x="1170" y="107" width="3" height="18" fill="#00ff00"/><rect x="1175" y="105" width="1" height="29" fill="#ff0000"/><rect x="1174" y="118" width="3" height="7" fill="#ff0000"/><rect x="1179" y="70" width="1" height="50" fill="#ff0000"/><rect x="1178" y="71" width="3" height="48" fill="#ff0000"/><rect x="1183" y="65" width="1" height="36" fill="#00ff00"/><rect x="1182" y="71" width="3" height="17" fill="#00ff00"/><rect x="1187" y="72" width="1" height="50" fill="#00ff00"/><rect x="1186" y="86" width="3" height="29" fill="#00ff00"/><rect x="1191" y="110" width="1" height="7" fill="#ff0000"/><rect x="1190" y="112" width="3" height="4" fill="#ff0000"/><rect x="1195" y="105" width="1" height="23" fill="#00ff00"/><rect x="1194" y="106" width="3" height="17" fill="#00ff00"/><rect x="1199" y="102" width="1" height="33" fill="#ff0000"/><rect x="1198" y="118" width="3" height="5" fill="#ff0000"/><rect x="1203" y="100" width="1" height="39" fill="#ff0000"/><rect x="1202" y="106" width="3" height="13" fill="#ff0000"/><rect x="1207" y="83" width="1" height="26" fill="#ff0000"/><rect x="1206" y="99" width="3" height="9" fill="#ff0000"/><rect x="1211" y="92" width="1" height="21" fill="#ff0000"/><rect x="1210" y="94" width="3" height="6" fill="#ff0000"/><rect x="1215" y="88" width="1" height="8" fill="#ff0000"/><rect x="1214" y="92" width="3" height="4" fill="#ff0000"/><rect x="1219" y="77" width="1" height="17" fill="#ff0000"/><rect x="1218" y="81" width="3" height="12" fill="#ff0000"/><rect x="1223" y="47" width="1" height="39" fill="#ff0000"/><rect x="1222" y="60" width="3" height="23" fill="#ff0000"/><rect x="1227" y="52" width="1" height="24" fill="#00ff00"/><rect x="1226" y="60" width="3" height="12" fill="#00ff00"/><rect x="1231" y="71" width="1" height="32" fill="#00ff00"/><rect x="1230" y="72" width="3" height="15" fill="#00ff00"/><rect x="1235" y="76" width="1" height="44" fill="#00ff00"/><rect x="1234" y="84" width="3" height="33" fill="#00ff00"/><rect x="1239" y="109" width="1" height="11" fill="#ff0000"/><rect x="1238" y="110" width="3" height="6" fill="#ff0000"/><rect x="1243" y="88" width="1" height="24" fill="#ff0000"/><rect x="1242" y="102" width="3" height="4" fill="#ff0000"/><rect x="1247" y="90" width="1" height="21" fill="#ff0000"/><rect x="1246" y="99" width="3" height="5" fill="#ff0000"/><rect x="1251" y="92" width="1" height="25" fill="#00ff00"/><rect x="1250" y="99" width="3" height="3" fill="#00ff00"/><rect x="1255" y="70" width="1" height="51" fill="#ff0000"/><rect x="1254" y="97" width="3" height="5" fill="#ff0000"/><rect x="1259" y="63" width="1" height="46" fill="#ff0000"/><rect x="1258" y="68" width="3" height="31" fill="#ff0000"/><rect x="1263" y="70" width="1" height="8" fill="#00ff00"/><rect x="1262" y="70" width="3" height="6" fill="#00ff00"/><rect x="1267" y="60" width="1" height="9" fill="#ff0000"/><rect x="1266" y="66" width="3" height="2" fill="#ff0000"/></g>
<polyline points="3.5,340.0 7.5,339.7 11.5,340.4 15.5,341.8 19.5,343.4 23.5,345.3 27.5,346.8 31.5,348.4 35.5,350.3 39.5,352.7 43.5,354.6 47.5,356.6 51.5,358.9 55.5,360.2 59.5,361.4 63.5,362.5 67.5,364.1 71.5,365.0 75.5,365.8 79.5,366.6 83.5,367.8 87.5,368.9 91.5,370.4 95.5,371.7 99.5,373.7 103.5,375.8 107.5,377.9 111.5,380.0 115.5,382.6 119.5,384.9 123.5,386.3 127.5,387.1 131.5,387.3 135.5,387.1 139.5,386.9 143.5,387.1 147.5,387.8 151.5,388.0 155.5,388.0 159.5,387.8 163.5,388.2 167.5,388.3 171.5,387.4 175.5,386.7 179.5,385.8 183.5,384.6 187.5,383.0 191.5,382.1 195.5,381.4 199.5,380.8 203.5,379.8 207.5,379.1 211.5,377.9 215.5,376.5 219.5,374.5 223.5,371.9 227.5,369.2 231.5,366.6 235.5,363.7 239.5,362.0 243.5,360.5 247.5,359.8 251.5,359.2 255.5,358.8 259.5,358.2 263.5,357.4 267.5,357.0 271.5,357.3 275.5,357.1 279.5,357.0 283.5,356.3 287.5,355.9 291.5,356.0 295.5,356.7 299.5,358.1 303.5,359.8 307.5,361.4 311.5,362.8 315.5,364.2 319.5,365.3 323.5,365.9 327.5,366.6 331.5,366.9 335.5,367.2 339.5,367.6 343.5,368.4 347.5,369.8 351.5,371.0 355.5,371.9 359.5,371.7 363.5,371.7 367.5,370.9 371.5,369.5 375.5,368.3 379.5,367.1 383.5,365.4 387.5,364.0 391.5,362.7 395.5,362.3 399.5,362.2 403.5,362.1 407.5,361.9 411.5,361.7 415.5,361.3 419.5,359.8 423.5,357.9 427.5,355.7 431.5,353.1 435.5,350.5 439.5,348.3 443.5,346.8 447.5,344.9 451.5,343.6 455.5,342.9 459.5,342.6 463.5,342.5 467.5,341.8 471.5,340.9 475.5,340.2 479.5,339.9 483.5,339.0 487.5,338.8 491.5,339.3 495.5,339.6 499.5,340.3 503.5,341.0 507.5,341.6 511.5,342.4 515.5,343.1 519.5,343.6 523.5,344.4 527.5,345.5 531.5,346.5 535.5,347.3 539.5,348.2 543.5,349.3 547.5,351.1 551.5,353.3 555.5,355.8 559.5,358.4 563.5,360.7 567.5,363.4 571.5,366.5 575.5,369.2 579.5,371.8 583.5,374.8 587.5,378.0 591.5,381.4 595.5,384.9 599.5,388.5 603.5,392.7 607.5,396.7 611.5,399.5 615.5,402.2 619.5,404.8 623.5,407.5 627.5,409.9 631.5,410.7 635.5,411.1 639.5,411.1 643.5,409.7 647.5,407.6 651.5,405.9 655.5,404.1 659.5,401.5 663.5,398.7 667.5,394.4 671.5,390.9 675.5,387.6 679.5,386.4 683.5,385.2 687.5,383.6 691.5,381.2 695.5,380.5 699.5,381.3 703.5,383.0 707.5,385.0 711.5,387.1 715.5,387.9 719.5,388.2 723.5,387.6 727.5,385.1 731.5,382.7 735.5,379.6 739.5,377.8 743.5,376.0 747.5,375.3 751.5,376.7 755.5,378.9 759.5,381.5 763.5,385.3 767.5,388.8 771.5,392.0 775.5,395.1 779.5,399.4 783.5,403.9 787.5,410.0 791.5,414.3 795.5,419.3 799.5,422.3 803.5,424.4 807.5,426.8 811.5,429.8 815.5,431.2 819.5,431.2 823.5,429.9 827.5,428.5 831.5,426.9 835.5,426.1 839.5,425.6 843.5,425.4 847.5,426.5 851.5,427.2 855.5,428.9 859.5,429.9 863.5,431.9 867.5,433.4 871.5,434.0 875.5,433.2 879.5,432.8 883.5,432.7 887.5,432.9 891.5,433.3 895.5,434.8 899.5,436.3 903.5,437.8 907.5,437.7 911.5,438.1 915.5,436.7 919.5,435.2 923.5,435.1 927.5,434.7 931.5,434.5 935.5,433.1 939.5,431.5 943.5,428.5 947.5,424.8 951.5,421.2 955.5,417.8 959.5,413.9 963.5,409.3 967.5,404.7 971.5,401.3 975.5,397.5 979.5,393.3 983.5,387.3 987.5,380.9 991.5,374.3 995.5,369.8 999.5,365.3 1003.5,360.0 1007.5,355.4 1011.5,350.8 1015.5,346.0 1019.5,341.6 1023.5,337.3 1027.5,333.1 1031.5,328.6 1035.5,325.2 1039.5,322.0 1043.5,318.3 1047.5,314.4 1051.5,310.4 1055.5,307.3 1059.5,303.8 1063.5,301.8 1067.5,300.2 1071.5,298.6 1075.5,296.4 1079.5,294.9 1083.5,293.9 1087.5,294.2 1091.5,293.9 1095.5,293.9 1099.5,293.0 1103.5,292.3 1107.5,291.7 1111.5,291.0 1115.5,288.7 1119.5,286.3 1123.5,284.2 1127.5,281.4 1131.5,277.1 1135.5,272.2 1139.5,267.0 1143.5,261.6 1147.5,255.9 1151.5,251.1 1155.5,245.2 1159.5,238.4 1163.5,231.3 1167.5,224.7 1171.5,218.7 1175.5,212.5 1179.5,205.0 1183.5,197.8 1187.5,191.6 1191.5,185.1 1195.5,179.9 1199.5,174.4 1203.5,168.9 1207.5,162.8 1211.5,156.7 1215.5,150.3 1219.5,144.4 1223.5,138.3 1227.5,132.5 1231.5,127.5 1235.5,123.6 1239.5,119.5 1243.5,115.2 1247.5,111.4 1251.5,108.7 1255.5,106.4 1259.5,103.2 1263.5,100.3 1267.5,98.4" fill="none" stroke="#0000cd" stroke-width="1" shape-rendering="crispEdges"/>
<polyline points="3.5,347.2 7.5,349.2 11.5,352.6 15.5,356.2 19.5,359.8 23.5,363.4 27.5,365.7 31.5,367.6 35.5,369.4 39.5,371.6 43.5,373.2 47.5,375.2 51.5,378.3 55.5,379.5 59.5,379.4 63.5,379.2 67.5,378.8 71.5,376.3 75.5,374.2 79.5,372.2 83.5,372.8 87.5,373.4 91.5,374.7 95.5,375.4 99.5,378.2 103.5,380.8 107.5,382.3 111.5,385.7 115.5,390.0 119.5,393.4 123.5,394.9 127.5,396.7 131.5,398.8 135.5,400.2 139.5,400.7 143.5,402.4 147.5,402.9 151.5,402.4 155.5,400.1 159.5,397.3 163.5,395.3 167.5,392.8 171.5,388.4 175.5,383.4 179.5,378.2 183.5,373.9 187.5,369.5 191.5,365.6 195.5,362.3 199.5,358.6 203.5,355.8 207.5,354.4 211.5,353.1 215.5,351.3 219.5,348.7 223.5,345.7 227.5,343.3 231.5,342.5 235.5,342.7 239.5,344.9 243.5,346.6 247.5,348.8 251.5,351.2 255.5,353.2 259.5,354.3 263.5,355.9 267.5,358.1 271.5,361.1 275.5,362.9 279.5,365.4 283.5,367.7 287.5,369.9 291.5,372.1 295.5,372.1 299.5,373.3 303.5,373.8 307.5,374.1 311.5,374.3 315.5,375.3 319.5,375.4 323.5,374.9 327.5,374.5 331.5,374.0 335.5,373.3 339.5,373.0 343.5,372.5 347.5,372.8 351.5,373.2 355.5,372.2 359.5,370.5 363.5,368.7 367.5,366.0 371.5,362.4 375.5,359.6 379.5,356.9 383.5,353.3 387.5,352.0 391.5,351.3 395.5,351.4 399.5,352.1 403.5,351.2 407.5,350.3 411.5,350.1 415.5,349.8 419.5,347.8 423.5,346.1 427.5,344.5 431.5,341.8 435.5,339.8 439.5,338.8 443.5,337.9 447.5,336.5 451.5,333.8 455.5,332.0 459.5,331.2 463.5,330.9 467.5,330.1 471.5,329.5 475.5,330.3 479.5,331.9 483.5,333.1 487.5,335.3 491.5,338.3 495.5,341.0 499.5,343.0 503.5,344.8 507.5,347.7 511.5,350.2 515.5,352.6 519.5,354.4 523.5,356.9 527.5,360.1 531.5,363.5 535.5,365.6 539.5,367.4 543.5,368.7 547.5,369.7 551.5,371.0 555.5,373.1 559.5,376.2 563.5,379.0 567.5,381.5 571.5,384.1 575.5,387.0 579.5,389.9 583.5,393.7 587.5,397.6 591.5,402.6 595.5,409.0 599.5,415.7 603.5,422.4 607.5,428.2 611.5,431.8 615.5,434.8 619.5,437.4 623.5,439.3 627.5,440.7 631.5,439.0 635.5,436.8 639.5,432.2 643.5,424.9 647.5,416.3 651.5,408.5 655.5,399.2 659.5,386.1 663.5,373.1 667.5,358.9 671.5,346.9 675.5,336.3 679.5,330.9 683.5,325.9 687.5,323.7 691.5,319.9 695.5,321.4 699.5,328.9 703.5,341.1 707.5,352.6 711.5,366.1 715.5,380.0 719.5,393.1 723.5,407.8 727.5,415.7 731.5,421.3 735.5,420.3 739.5,421.5 743.5,423.0 747.5,428.1 751.5,430.9 755.5,431.8 759.5,428.9 763.5,425.8 767.5,419.9 771.5,417.4 775.5,414.0 779.5,411.2 783.5,413.6 787.5,417.5 791.5,421.2 795.5,425.3 799.5,429.9 803.5,431.1 807.5,430.9 811.5,429.0 815.5,427.9 819.5,427.3 823.5,429.1 827.5,430.8 831.5,434.2 835.5,437.2 839.5,439.6 843.5,440.7 847.5,441.7 851.5,438.1 855.5,434.4 859.5,433.5 863.5,434.1 867.5,435.8 871.5,436.8 875.5,435.9 879.5,435.2 883.5,434.6 887.5,432.9 891.5,432.8 895.5,433.8 899.5,434.7 903.5,437.8 907.5,440.1 911.5,441.1 915.5,439.7 919.5,436.9 923.5,434.7 927.5,432.5 931.5,431.7 935.5,428.5 939.5,424.8 943.5,419.6 947.5,412.7 951.5,405.1 955.5,397.4 959.5,388.5 963.5,379.9 967.5,370.1 971.5,362.2 975.5,353.7 979.5,343.7 983.5,332.5 987.5,321.0 991.5,310.7 995.5,303.8 999.5,299.8 1003.5,295.7 1007.5,291.8 1011.5,289.4 1015.5,288.3 1019.5,289.7 1023.5,293.2 1027.5,294.1 1031.5,293.3 1035.5,293.8 1039.5,297.0 1043.5,300.6 1047.5,304.3 1051.5,304.5 1055.5,304.2 1059.5,304.5 1063.5,304.7 1067.5,304.1 1071.5,303.5 1075.5,300.5 1079.5,297.6 1083.5,295.9 1087.5,296.5 1091.5,295.3 1095.5,293.4 1099.5,289.5 1103.5,285.0 1107.5,280.7 1111.5,275.9 1115.5,271.4 1119.5,266.6 1123.5,261.5 1127.5,255.0 1131.5,247.9 1135.5,239.7 1139.5,231.9 1143.5,223.4 1147.5,212.5 1151.5,201.5 1155.5,191.3 1159.5,181.7 1163.5,171.2 1167.5,162.2 1171.5,154.4 1175.5,146.1 1179.5,134.6 1183.5,125.6 1187.5,120.9 1191.5,116.9 1195.5,113.9 1199.5,110.7 1203.5,109.5 1207.5,107.3 1211.5,105.8 1215.5,104.6 1219.5,103.4 1223.5,99.9 1227.5,96.1 1231.5,93.8 1235.5,97.0 1239.5,98.7 1243.5,97.8 1247.5,96.9 1251.5,95.4 1255.5,93.9 1259.5,91.2 1263.5,89.4 1267.5,87.4" fill="none" stroke="#ff0000" stroke-width="1" shape-rendering="crispEdges"/>
<polyline points="3.5,348.4 7.5,352.9 11.5,362.1 15.5,373.1 19.5,384.2 23.5,391.6 27.5,393.7 31.5,390.3 35.5,384.7 39.5,380.5 43.5,374.0 47.5,373.0 51.5,375.7 55.5,373.5 59.5,370.2 63.5,369.8 67.5,372.2 71.5,367.7 75.5,369.3 79.5,371.4 83.5,375.8 87.5,375.1 91.5,380.2 95.5,384.0 99.5,390.7 103.5,395.4 107.5,400.6 111.5,404.2 115.5,411.0 119.5,412.4 123.5,411.4 127.5,408.1 131.5,405.8 135.5,400.1 139.5,396.2 143.5,396.3 147.5,397.6 151.5,394.1 155.5,390.3 159.5,385.9 163.5,380.6 167.5,376.1 171.5,372.0 175.5,365.7 179.5,357.9 183.5,348.1 187.5,340.4 191.5,336.3 195.5,337.2 199.5,341.3 203.5,347.2 207.5,352.0 211.5,355.0 215.5,354.9 219.5,353.0 223.5,347.6 227.5,341.0 231.5,336.2 235.5,333.9 239.5,337.4 243.5,342.9 247.5,351.6 251.5,361.5 255.5,370.9 259.5,373.5 263.5,378.2 267.5,381.0 271.5,382.5 275.5,380.0 279.5,378.7 283.5,373.8 287.5,369.2 291.5,364.8 295.5,363.4 299.5,364.9 303.5,368.9 307.5,373.3 311.5,377.0 315.5,382.4 319.5,384.2 323.5,383.9 327.5,383.6 331.5,379.2 335.5,372.9 339.5,367.1 343.5,362.6 347.5,360.0 351.5,361.2 355.5,362.0 359.5,362.0 363.5,362.8 367.5,358.1 371.5,352.3 375.5,349.1 379.5,345.7 383.5,340.5 387.5,339.9 391.5,341.7 395.5,344.1 399.5,349.1 403.5,354.0 407.5,356.5 411.5,358.6 415.5,357.4 419.5,350.7 423.5,343.9 427.5,335.9 431.5,325.8 435.5,317.8 439.5,315.3 443.5,316.9 447.5,319.3 451.5,322.0 455.5,327.1 459.5,332.6 463.5,336.8 467.5,340.8 471.5,345.3 475.5,346.0 479.5,345.9 483.5,342.2 487.5,340.2 491.5,342.4 495.5,345.4 499.5,348.1 503.5,352.0 507.5,356.8 511.5,360.3 515.5,365.0 519.5,368.7 523.5,374.8 527.5,380.1 531.5,383.3 535.5,382.4 539.5,378.6 543.5,373.2 547.5,369.3 551.5,366.5 555.5,369.2 559.5,376.6 563.5,385.5 567.5,393.3 571.5,401.5 575.5,407.4 579.5,413.1 583.5,421.3 587.5,428.2 591.5,434.3 595.5,440.3 599.5,445.6 603.5,449.7 607.5,452.4 611.5,451.1 615.5,448.7 619.5,446.2 623.5,440.8 627.5,436.4 631.5,427.3 635.5,418.8 639.5,406.6 643.5,387.9 647.5,365.9 651.5,354.9 655.5,340.4 659.5,320.6 663.5,307.3 667.5,290.5 671.5,276.3 675.5,269.9 679.5,286.3 683.5,304.2 687.5,328.5 691.5,343.1 695.5,364.9 699.5,382.3 703.5,408.3 707.5,436.0 711.5,469.8 715.5,484.7 719.5,487.1 723.5,477.3 727.5,453.0 731.5,424.4 735.5,399.2 739.5,383.8 743.5,371.2 747.5,377.8 751.5,391.7 755.5,414.5 759.5,428.9 763.5,443.7 767.5,447.0 771.5,446.8 775.5,437.4 779.5,427.8 783.5,418.8 787.5,417.6 791.5,410.1 795.5,415.3 799.5,423.7 803.5,426.8 807.5,429.3 811.5,436.1 815.5,436.3 819.5,436.2 823.5,441.5 827.5,446.5 831.5,452.1 835.5,453.8 839.5,453.2 843.5,450.2 847.5,440.5 851.5,426.1 855.5,416.0 859.5,409.9 863.5,410.6 867.5,419.7 871.5,432.7 875.5,440.4 879.5,446.2 883.5,448.0 887.5,443.9 891.5,442.6 895.5,447.3 899.5,448.9 903.5,449.4 907.5,446.3 911.5,439.1 915.5,426.3 919.5,416.8 923.5,411.1 927.5,411.5 931.5,414.3 935.5,414.9 939.5,414.0 943.5,401.5 947.5,387.0 951.5,372.6 955.5,361.8 959.5,347.6 963.5,335.3 967.5,320.0 971.5,306.3 975.5,294.5 979.5,286.0 983.5,278.8 987.5,276.6 991.5,270.6 995.5,274.2 999.5,278.4 1003.5,283.8 1007.5,290.8 1011.5,302.1 1015.5,304.1 1019.5,307.0 1023.5,313.1 1027.5,312.8 1031.5,305.4 1035.5,301.4 1039.5,299.2 1043.5,297.2 1047.5,299.4 1051.5,305.5 1055.5,307.6 1059.5,304.7 1063.5,302.3 1067.5,301.5 1071.5,301.3 1075.5,296.6 1079.5,294.0 1083.5,288.3 1087.5,284.2 1091.5,278.6 1095.5,279.3 1099.5,274.5 1103.5,268.8 1107.5,261.4 1111.5,253.1 1115.5,243.1 1119.5,238.2 1123.5,235.6 1127.5,229.3 1131.5,218.4 1135.5,205.3 1139.5,191.2 1143.5,177.5 1147.5,159.5 1151.5,149.4 1155.5,139.1 1159.5,128.1 1163.5,115.1 1167.5,112.4 1171.5,111.2 1175.5,111.5 1179.5,103.9 1183.5,101.7 1187.5,102.6 1191.5,100.2 1195.5,101.2 1199.5,110.5 1203.5,114.5 1207.5,111.5 1211.5,107.9 1215.5,101.9 1219.5,94.6 1223.5,85.4 1227.5,79.7 1231.5,78.0 1235.5,82.8 1239.5,88.5 1243.5,96.8 1247.5,102.5 1251.5,105.6 1255.5,101.8 1259.5,93.5 1263.5,88.1 1267.5,81.5" fill="none" stroke="#ffa500" stroke-width="1" shape-rendering="crispEdges"/>
<rect x="3" y="32" width="1592" height="2" fill="#ff0000" />
<rect x="2" y="30" width="6" height="6" fill="#ff0000" />
<rect x="4" y="32" width="2" height="2" fill="#ffffff" />
<rect x="1589" y="30" width="6" height="6" fill="#ff0000" />
<rect x="1591" y="32" width="2" height="2" fill="#ffffff" />
<rect x="1597" y="27" width="40" height="11" fill="#ff0000" />
<text x="1601.5" y="35.6" font-size="10" fill="#ffffff" textLength="32.5" lengthAdjust="spacingAndGlyphs" >1.20037</text>
<rect x="3" y="68" width="1592" height="2" fill="#ff0000" />
<rect x="2" y="66" width="6" height="6" fill="#ff0000" />
<rect x="4" y="68" width="2" height="2" fill="#ffffff" />
<rect x="1589" y="66" width="6" height="6" fill="#ff0000" />
<rect x="1591" y="68" width="2" height="2" fill="#ffffff" />
<rect x="1597" y="63" width="40" height="11" fill="#ff0000" />
<text x="1601.5" y="71.6" font-size="10" fill="#ffffff" textLength="32.5" lengthAdjust="spacingAndGlyphs" >1.19017</text>
<rect x="3" y="103" width="1592" height="2" fill="#00ff00" />
<rect x="2" y="101" width="6" height="6" fill="#00ff00" />
<rect x="4" y="103" width="2" height="2" fill="#ffffff" />
<rect x="1589" y="101" width="6" height="6" fill="#00ff00" />
<rect x="1591" y="103" width="2" height="2" fill="#ffffff" />
<rect x="1597" y="98" width="40" height="11" fill="#00ff00" />
<text x="1601.5" y="106.6" font-size="10" fill="#ffffff" textLength="32.5" lengthAdjust="spacingAndGlyphs" >1.18025</text>
<rect x="3" y="139" width="1592" height="2" fill="#0000ff" />
<rect x="2" y="137" width="6" height="6" fill="#0000ff" />
<rect x="4" y="139" width="2" height="2" fill="#ffffff" />
<rect x="1589" y="137" width="6" height="6" fill="#0000ff" />
<rect x="1591" y="139" width="2" height="2" fill="#ffffff" />
<rect x="1597" y="134" width="40" height="11" fill="#0000ff" />
<text x="1601.5" y="142.6" font-size="10" fill="#ffffff" textLength="32.5" lengthAdjust="spacingAndGlyphs" >1.17005</text>
<rect x="3" y="174" width="1592" height="2" fill="#0000ff" />
<rect x="2" y="172" width="6" height="6" fill="#0000ff" />
<rect x="4" y="174" width="2" height="2" fill="#ffffff" />
<rect x="1589" y="172" width="6" height="6" fill="#0000ff" />
<rect x="1591" y="174" width="2" height="2" fill="#ffffff" />
<rect x="1597" y="169" width="40" height="11" fill="#0000ff" />
<text x="1601.5" y="177.6" font-size="10" fill="#ffffff" textLength="32.5" lengthAdjust="spacingAndGlyphs" >1.16013</text>
<rect x="1597" y="61" width="40" height="2" fill="#000" />
<rect x="1597" y="63" width="40" height="11" fill="#ff0000" />
<text x="1601.5" y="71.6" font-size="10" fill="#ffffff" textLength="32.5" lengthAdjust="spacingAndGlyphs" >1.19017</text>
<path d="M6 29 L13 29 L9.5 33 Z" fill="#000"/>
<text x="18" y="34" font-size="9.6" fill="#000" stroke="#000" stroke-width="0.2" textLength="211" lengthAdjust="spacingAndGlyphs" >EURUSD,Daily&#160;&#160;1.19078 1.19287 1.19043 1.19103</text>
<rect x="8" y="32" width="240" height="2" fill="#ff0000" />
<rect x="2" y="30" width="6" height="6" fill="#ff0000" />
<rect x="4" y="32" width="2" height="2" fill="#fff" />
<path d="M1270.5 23 L1280.5 23 L1275.5 28 Z" fill="#a0a0a0"/>
<line x1="4" y1="557.5" x2="1595" y2="557.5" stroke="#c0c0c0" stroke-width="1" stroke-dasharray="3,3" shape-rendering="crispEdges"/>
<line x1="4" y1="593.5" x2="1595" y2="593.5" stroke="#c0c0c0" stroke-width="1" stroke-dasharray="3,3" shape-rendering="crispEdges"/>
<polyline points="3.5,586.4 7.5,588.7 11.5,595.9 15.5,598.0 19.5,597.5 23.5,597.6 27.5,584.2 31.5,581.8 35.5,580.6 39.5,583.2 43.5,577.4 47.5,580.2 51.5,585.6 55.5,573.8 59.5,574.1 63.5,575.4 67.5,582.8 71.5,575.3 75.5,576.3 79.5,577.5 83.5,582.4 87.5,580.4 91.5,583.4 95.5,581.9 99.5,587.3 103.5,588.5 107.5,587.4 111.5,587.8 115.5,591.4 119.5,586.4 123.5,583.0 127.5,576.8 131.5,579.4 135.5,577.2 139.5,577.2 143.5,582.2 147.5,578.3 151.5,571.8 155.5,569.3 159.5,568.5 163.5,572.1 167.5,570.6 171.5,565.5 175.5,560.5 179.5,558.2 183.5,557.7 187.5,561.0 191.5,562.7 195.5,566.4 199.5,569.5 203.5,572.4 207.5,573.0 211.5,570.5 215.5,567.2 219.5,566.3 223.5,562.2 227.5,560.8 231.5,562.8 235.5,564.9 239.5,578.3 243.5,577.7 247.5,582.1 251.5,585.3 255.5,585.5 259.5,582.0 263.5,585.4 267.5,585.8 271.5,586.8 275.5,576.9 279.5,576.4 283.5,572.5 287.5,573.8 291.5,575.5 295.5,573.8 299.5,580.5 303.5,581.8 307.5,584.0 311.5,584.0 315.5,586.2 319.5,583.2 323.5,578.7 327.5,581.2 331.5,570.5 335.5,568.7 339.5,567.9 343.5,567.4 347.5,575.8 351.5,575.1 355.5,571.8 359.5,569.1 363.5,570.8 367.5,565.2 371.5,562.6 375.5,566.7 379.5,564.0 383.5,561.8 387.5,568.4 391.5,570.9 395.5,576.1 399.5,578.8 403.5,575.3 407.5,574.8 411.5,576.0 415.5,572.9 419.5,563.7 423.5,561.2 427.5,559.2 431.5,556.9 435.5,559.5 439.5,563.2 443.5,570.4 447.5,569.2 451.5,566.5 455.5,574.7 459.5,578.2 463.5,580.5 467.5,578.8 471.5,576.5 475.5,575.4 479.5,577.4 483.5,571.7 487.5,574.1 491.5,581.4 495.5,581.9 499.5,583.1 503.5,579.7 507.5,583.5 511.5,587.4 515.5,589.8 519.5,588.3 523.5,590.4 527.5,591.9 531.5,592.1 535.5,583.3 539.5,574.7 543.5,573.9 547.5,579.5 551.5,581.7 555.5,586.7 559.5,589.0 563.5,590.6 567.5,592.6 571.5,594.5 575.5,595.2 579.5,596.8 583.5,600.6 587.5,600.8 591.5,601.3 595.5,601.9 599.5,602.4 603.5,604.6 607.5,600.1 611.5,588.4 615.5,587.0 619.5,587.6 623.5,585.8 627.5,585.1 631.5,566.5 635.5,566.5 639.5,561.5 643.5,554.0 647.5,551.3 651.5,557.8 655.5,554.8 659.5,549.4 663.5,549.1 667.5,546.0 671.5,555.4 675.5,561.6 679.5,576.5 683.5,577.3 687.5,576.8 691.5,572.9 695.5,582.3 699.5,588.2 703.5,592.6 707.5,593.2 711.5,594.0 715.5,586.7 719.5,584.3 723.5,582.0 727.5,572.2 731.5,570.7 735.5,568.2 739.5,573.7 743.5,573.8 747.5,577.9 751.5,581.1 755.5,583.8 759.5,582.9 763.5,583.3 767.5,578.2 771.5,579.3 775.5,575.4 779.5,574.4 783.5,575.3 787.5,577.2 791.5,572.8 795.5,579.7 799.5,581.2 803.5,577.3 807.5,578.5 811.5,577.9 815.5,579.3 819.5,580.8 823.5,581.9 827.5,583.1 831.5,583.1 835.5,579.7 839.5,579.0 843.5,577.2 847.5,570.4 851.5,565.7 855.5,568.3 859.5,572.9 863.5,579.2 867.5,582.1 871.5,581.1 875.5,576.7 879.5,578.4 883.5,580.3 887.5,576.3 891.5,578.6 895.5,581.5 899.5,579.4 903.5,580.0 907.5,571.5 911.5,569.1 915.5,566.0 919.5,568.7 923.5,574.4 927.5,573.7 931.5,574.2 935.5,567.9 939.5,568.5 943.5,561.5 947.5,559.4 951.5,560.3 955.5,558.9 959.5,556.5 963.5,552.9 967.5,550.0 971.5,553.5 975.5,553.8 979.5,554.1 983.5,551.5 987.5,551.2 991.5,550.2 995.5,566.6 999.5,567.7 1003.5,565.0 1007.5,566.6 1011.5,570.3 1015.5,570.9 1019.5,573.3 1023.5,573.7 1027.5,567.2 1031.5,562.9 1035.5,568.6 1039.5,573.1 1043.5,573.8 1047.5,572.3 1051.5,571.8 1055.5,571.4 1059.5,569.5 1063.5,571.1 1067.5,571.8 1071.5,572.4 1075.5,565.2 1079.5,566.7 1083.5,563.9 1087.5,567.8 1091.5,566.3 1095.5,569.0 1099.5,562.7 1103.5,559.4 1107.5,559.8 1111.5,557.8 1115.5,557.4 1119.5,558.2 1123.5,557.3 1127.5,553.6 1131.5,548.7 1135.5,547.2 1139.5,546.7 1143.5,546.6 1147.5,542.8 1151.5,546.2 1155.5,544.8 1159.5,544.2 1163.5,543.2 1167.5,549.0 1171.5,555.2 1175.5,554.2 1179.5,548.5 1183.5,554.3 1187.5,563.1 1191.5,562.7 1195.5,565.8 1199.5,564.9 1203.5,562.8 1207.5,561.5 1211.5,560.5 1215.5,560.1 1219.5,558.1 1223.5,554.7 1227.5,558.9 1231.5,564.2 1235.5,573.3 1239.5,571.9 1243.5,570.0 1247.5,569.4 1251.5,570.0 1255.5,568.8 1259.5,562.3 1263.5,564.6 1267.5,562.8" fill="none" stroke="#1e90ff" stroke-width="1" shape-rendering="crispEdges"/>
<text x="7" y="542" font-size="10" fill="#000" stroke="#000" stroke-width="0.2" textLength="68" lengthAdjust="spacingAndGlyphs" >RSI(14) 64.9665</text>
<rect x="1596" y="531" width="2" height="1" fill="#000" />
<text x="1599.5" y="540" font-size="10" fill="#000" stroke="#000" stroke-width="0.2" textLength="14.5" lengthAdjust="spacingAndGlyphs" >100</text>
<text x="1598" y="561" font-size="10" fill="#000" stroke="#000" stroke-width="0.2" textLength="10" lengthAdjust="spacingAndGlyphs" >70</text>
<text x="1598" y="597" font-size="10" fill="#000" stroke="#000" stroke-width="0.2" textLength="10" lengthAdjust="spacingAndGlyphs" >30</text>
<text x="1598" y="618.5" font-size="10" fill="#000" stroke="#000" stroke-width="0.2" textLength="5" lengthAdjust="spacingAndGlyphs" >0</text>
<g shape-rendering="crispEdges"><rect x="3" y="680" width="1" height="10" fill="#c0c0c0"/><rect x="7" y="680" width="1" height="11" fill="#c0c0c0"/><rect x="11" y="680" width="1" height="14" fill="#c0c0c0"/><rect x="15" y="680" width="1" height="17" fill="#c0c0c0"/><rect x="19" y="680" width="1" height="19" fill="#c0c0c0"/><rect x="23" y="680" width="1" height="20" fill="#c0c0c0"/><rect x="27" y="680" width="1" height="19" fill="#c0c0c0"/><rect x="31" y="680" width="1" height="18" fill="#c0c0c0"/><rect x="35" y="680" width="1" height="16" fill="#c0c0c0"/><rect x="39" y="680" width="1" height="16" fill="#c0c0c0"/><rect x="43" y="680" width="1" height="14" fill="#c0c0c0"/><rect x="47" y="680" width="1" height="13" fill="#c0c0c0"/><rect x="51" y="680" width="1" height="13" fill="#c0c0c0"/><rect x="55" y="680" width="1" height="11" fill="#c0c0c0"/><rect x="59" y="680" width="1" height="9" fill="#c0c0c0"/><rect x="63" y="680" width="1" height="8" fill="#c0c0c0"/><rect x="67" y="680" width="1" height="9" fill="#c0c0c0"/><rect x="71" y="680" width="1" height="8" fill="#c0c0c0"/><rect x="75" y="680" width="1" height="7" fill="#c0c0c0"/><rect x="79" y="680" width="1" height="7" fill="#c0c0c0"/><rect x="83" y="680" width="1" height="8" fill="#c0c0c0"/><rect x="87" y="680" width="1" height="8" fill="#c0c0c0"/><rect x="91" y="680" width="1" height="9" fill="#c0c0c0"/><rect x="95" y="680" width="1" height="9" fill="#c0c0c0"/><rect x="99" y="680" width="1" height="11" fill="#c0c0c0"/><rect x="103" y="680" width="1" height="12" fill="#c0c0c0"/><rect x="107" y="680" width="1" height="13" fill="#c0c0c0"/><rect x="111" y="680" width="1" height="14" fill="#c0c0c0"/><rect x="115" y="680" width="1" height="16" fill="#c0c0c0"/><rect x="119" y="680" width="1" height="16" fill="#c0c0c0"/><rect x="123" y="680" width="1" height="15" fill="#c0c0c0"/><rect x="127" y="680" width="1" height="13" fill="#c0c0c0"/><rect x="131" y="680" width="1" height="12" fill="#c0c0c0"/><rect x="135" y="680" width="1" height="11" fill="#c0c0c0"/><rect x="139" y="680" width="1" height="10" fill="#c0c0c0"/><rect x="143" y="680" width="1" height="10" fill="#c0c0c0"/><rect x="147" y="680" width="1" height="9" fill="#c0c0c0"/><rect x="151" y="680" width="1" height="7" fill="#c0c0c0"/><rect x="155" y="680" width="1" height="5" fill="#c0c0c0"/><rect x="159" y="680" width="1" height="3" fill="#c0c0c0"/><rect x="163" y="680" width="1" height="2" fill="#c0c0c0"/><rect x="167" y="680" width="1" height="1" fill="#c0c0c0"/><rect x="171" y="678" width="1" height="3" fill="#c0c0c0"/><rect x="175" y="675" width="1" height="6" fill="#c0c0c0"/><rect x="179" y="671" width="1" height="10" fill="#c0c0c0"/><rect x="183" y="669" width="1" height="12" fill="#c0c0c0"/><rect x="187" y="667" width="1" height="14" fill="#c0c0c0"/><rect x="191" y="667" width="1" height="14" fill="#c0c0c0"/><rect x="195" y="667" width="1" height="14" fill="#c0c0c0"/><rect x="199" y="668" width="1" height="13" fill="#c0c0c0"/><rect x="203" y="669" width="1" height="12" fill="#c0c0c0"/><rect x="207" y="670" width="1" height="11" fill="#c0c0c0"/><rect x="211" y="671" width="1" height="10" fill="#c0c0c0"/><rect x="215" y="671" width="1" height="10" fill="#c0c0c0"/><rect x="219" y="671" width="1" height="10" fill="#c0c0c0"/><rect x="223" y="670" width="1" height="11" fill="#c0c0c0"/><rect x="227" y="669" width="1" height="12" fill="#c0c0c0"/><rect x="231" y="668" width="1" height="13" fill="#c0c0c0"/><rect x="235" y="668" width="1" height="13" fill="#c0c0c0"/><rect x="239" y="671" width="1" height="10" fill="#c0c0c0"/><rect x="243" y="673" width="1" height="8" fill="#c0c0c0"/><rect x="247" y="675" width="1" height="6" fill="#c0c0c0"/><rect x="251" y="678" width="1" height="3" fill="#c0c0c0"/><rect x="255" y="680" width="1" height="2" fill="#c0c0c0"/><rect x="259" y="680" width="1" height="3" fill="#c0c0c0"/><rect x="263" y="680" width="1" height="5" fill="#c0c0c0"/><rect x="267" y="680" width="1" height="6" fill="#c0c0c0"/><rect x="271" y="680" width="1" height="7" fill="#c0c0c0"/><rect x="275" y="680" width="1" height="7" fill="#c0c0c0"/><rect x="279" y="680" width="1" height="6" fill="#c0c0c0"/><rect x="283" y="680" width="1" height="5" fill="#c0c0c0"/><rect x="287" y="680" width="1" height="4" fill="#c0c0c0"/><rect x="291" y="680" width="1" height="4" fill="#c0c0c0"/><rect x="295" y="680" width="1" height="3" fill="#c0c0c0"/><rect x="299" y="680" width="1" height="4" fill="#c0c0c0"/><rect x="303" y="680" width="1" height="4" fill="#c0c0c0"/><rect x="307" y="680" width="1" height="5" fill="#c0c0c0"/><rect x="311" y="680" width="1" height="6" fill="#c0c0c0"/><rect x="315" y="680" width="1" height="7" fill="#c0c0c0"/><rect x="319" y="680" width="1" height="7" fill="#c0c0c0"/><rect x="323" y="680" width="1" height="7" fill="#c0c0c0"/><rect x="327" y="680" width="1" height="7" fill="#c0c0c0"/><rect x="331" y="680" width="1" height="5" fill="#c0c0c0"/><rect x="335" y="680" width="1" height="3" fill="#c0c0c0"/><rect x="339" y="680" width="1" height="2" fill="#c0c0c0"/><rect x="343" y="679" width="1" height="2" fill="#c0c0c0"/><rect x="347" y="680" width="1" height="1" fill="#c0c0c0"/><rect x="351" y="680" width="1" height="1" fill="#c0c0c0"/><rect x="355" y="679" width="1" height="2" fill="#c0c0c0"/><rect x="359" y="678" width="1" height="3" fill="#c0c0c0"/><rect x="363" y="678" width="1" height="3" fill="#c0c0c0"/><rect x="367" y="677" width="1" height="4" fill="#c0c0c0"/><rect x="371" y="675" width="1" height="6" fill="#c0c0c0"/><rect x="375" y="674" width="1" height="7" fill="#c0c0c0"/><rect x="379" y="673" width="1" height="8" fill="#c0c0c0"/><rect x="383" y="672" width="1" height="9" fill="#c0c0c0"/><rect x="387" y="672" width="1" height="9" fill="#c0c0c0"/><rect x="391" y="673" width="1" height="8" fill="#c0c0c0"/><rect x="395" y="674" width="1" height="7" fill="#c0c0c0"/><rect x="399" y="676" width="1" height="5" fill="#c0c0c0"/><rect x="403" y="676" width="1" height="5" fill="#c0c0c0"/><rect x="407" y="677" width="1" height="4" fill="#c0c0c0"/><rect x="411" y="678" width="1" height="3" fill="#c0c0c0"/><rect x="415" y="678" width="1" height="3" fill="#c0c0c0"/><rect x="419" y="676" width="1" height="5" fill="#c0c0c0"/><rect x="423" y="674" width="1" height="7" fill="#c0c0c0"/><rect x="427" y="672" width="1" height="9" fill="#c0c0c0"/><rect x="431" y="670" width="1" height="11" fill="#c0c0c0"/><rect x="435" y="668" width="1" height="13" fill="#c0c0c0"/><rect x="439" y="668" width="1" height="13" fill="#c0c0c0"/><rect x="443" y="669" width="1" height="12" fill="#c0c0c0"/><rect x="447" y="670" width="1" height="11" fill="#c0c0c0"/><rect x="451" y="670" width="1" height="11" fill="#c0c0c0"/><rect x="455" y="671" width="1" height="10" fill="#c0c0c0"/><rect x="459" y="673" width="1" height="8" fill="#c0c0c0"/><rect x="463" y="675" width="1" height="6" fill="#c0c0c0"/><rect x="467" y="677" width="1" height="4" fill="#c0c0c0"/><rect x="471" y="678" width="1" height="3" fill="#c0c0c0"/><rect x="475" y="678" width="1" height="3" fill="#c0c0c0"/><rect x="479" y="679" width="1" height="2" fill="#c0c0c0"/><rect x="483" y="678" width="1" height="3" fill="#c0c0c0"/><rect x="487" y="678" width="1" height="3" fill="#c0c0c0"/><rect x="491" y="680" width="1" height="1" fill="#c0c0c0"/><rect x="495" y="680" width="1" height="2" fill="#c0c0c0"/><rect x="499" y="680" width="1" height="4" fill="#c0c0c0"/><rect x="503" y="680" width="1" height="4" fill="#c0c0c0"/><rect x="507" y="680" width="1" height="5" fill="#c0c0c0"/><rect x="511" y="680" width="1" height="7" fill="#c0c0c0"/><rect x="515" y="680" width="1" height="9" fill="#c0c0c0"/><rect x="519" y="680" width="1" height="10" fill="#c0c0c0"/><rect x="523" y="680" width="1" height="11" fill="#c0c0c0"/><rect x="527" y="680" width="1" height="13" fill="#c0c0c0"/><rect x="531" y="680" width="1" height="14" fill="#c0c0c0"/><rect x="535" y="680" width="1" height="13" fill="#c0c0c0"/><rect x="539" y="680" width="1" height="11" fill="#c0c0c0"/><rect x="543" y="680" width="1" height="9" fill="#c0c0c0"/><rect x="547" y="680" width="1" height="9" fill="#c0c0c0"/><rect x="551" y="680" width="1" height="9" fill="#c0c0c0"/><rect x="555" y="680" width="1" height="10" fill="#c0c0c0"/><rect x="559" y="680" width="1" height="11" fill="#c0c0c0"/><rect x="563" y="680" width="1" height="13" fill="#c0c0c0"/><rect x="567" y="680" width="1" height="14" fill="#c0c0c0"/><rect x="571" y="680" width="1" height="16" fill="#c0c0c0"/><rect x="575" y="680" width="1" height="18" fill="#c0c0c0"/><rect x="579" y="680" width="1" height="19" fill="#c0c0c0"/><rect x="583" y="680" width="1" height="21" fill="#c0c0c0"/><rect x="587" y="680" width="1" height="23" fill="#c0c0c0"/><rect x="591" y="680" width="1" height="25" fill="#c0c0c0"/><rect x="595" y="680" width="1" height="26" fill="#c0c0c0"/><rect x="599" y="680" width="1" height="26" fill="#c0c0c0"/><rect x="603" y="680" width="1" height="28" fill="#c0c0c0"/><rect x="607" y="680" width="1" height="28" fill="#c0c0c0"/><rect x="611" y="680" width="1" height="26" fill="#c0c0c0"/><rect x="615" y="680" width="1" height="24" fill="#c0c0c0"/><rect x="619" y="680" width="1" height="23" fill="#c0c0c0"/><rect x="623" y="680" width="1" height="21" fill="#c0c0c0"/><rect x="627" y="680" width="1" height="20" fill="#c0c0c0"/><rect x="631" y="680" width="1" height="15" fill="#c0c0c0"/><rect x="635" y="680" width="1" height="11" fill="#c0c0c0"/><rect x="639" y="680" width="1" height="6" fill="#c0c0c0"/><rect x="643" y="678" width="1" height="3" fill="#c0c0c0"/><rect x="647" y="672" width="1" height="9" fill="#c0c0c0"/><rect x="651" y="668" width="1" height="13" fill="#c0c0c0"/><rect x="655" y="663" width="1" height="18" fill="#c0c0c0"/><rect x="659" y="656" width="1" height="25" fill="#c0c0c0"/><rect x="663" y="651" width="1" height="30" fill="#c0c0c0"/><rect x="667" y="644" width="1" height="37" fill="#c0c0c0"/><rect x="671" y="642" width="1" height="39" fill="#c0c0c0"/><rect x="675" y="642" width="1" height="39" fill="#c0c0c0"/><rect x="679" y="648" width="1" height="33" fill="#c0c0c0"/><rect x="683" y="654" width="1" height="27" fill="#c0c0c0"/><rect x="687" y="659" width="1" height="22" fill="#c0c0c0"/><rect x="691" y="661" width="1" height="20" fill="#c0c0c0"/><rect x="695" y="668" width="1" height="13" fill="#c0c0c0"/><rect x="699" y="678" width="1" height="3" fill="#c0c0c0"/><rect x="703" y="680" width="1" height="10" fill="#c0c0c0"/><rect x="707" y="680" width="1" height="20" fill="#c0c0c0"/><rect x="711" y="680" width="1" height="28" fill="#c0c0c0"/><rect x="715" y="680" width="1" height="30" fill="#c0c0c0"/><rect x="719" y="680" width="1" height="31" fill="#c0c0c0"/><rect x="723" y="680" width="1" height="30" fill="#c0c0c0"/><rect x="727" y="680" width="1" height="24" fill="#c0c0c0"/><rect x="731" y="680" width="1" height="17" fill="#c0c0c0"/><rect x="735" y="680" width="1" height="10" fill="#c0c0c0"/><rect x="739" y="680" width="1" height="7" fill="#c0c0c0"/><rect x="743" y="680" width="1" height="5" fill="#c0c0c0"/><rect x="747" y="680" width="1" height="6" fill="#c0c0c0"/><rect x="751" y="680" width="1" height="9" fill="#c0c0c0"/><rect x="755" y="680" width="1" height="13" fill="#c0c0c0"/><rect x="759" y="680" width="1" height="16" fill="#c0c0c0"/><rect x="763" y="680" width="1" height="18" fill="#c0c0c0"/><rect x="767" y="680" width="1" height="17" fill="#c0c0c0"/><rect x="771" y="680" width="1" height="16" fill="#c0c0c0"/><rect x="775" y="680" width="1" height="14" fill="#c0c0c0"/><rect x="779" y="680" width="1" height="11" fill="#c0c0c0"/><rect x="783" y="680" width="1" height="10" fill="#c0c0c0"/><rect x="787" y="680" width="1" height="9" fill="#c0c0c0"/><rect x="791" y="680" width="1" height="7" fill="#c0c0c0"/><rect x="795" y="680" width="1" height="8" fill="#c0c0c0"/><rect x="799" y="680" width="1" height="10" fill="#c0c0c0"/><rect x="803" y="680" width="1" height="9" fill="#c0c0c0"/><rect x="807" y="680" width="1" height="10" fill="#c0c0c0"/><rect x="811" y="680" width="1" height="10" fill="#c0c0c0"/><rect x="815" y="680" width="1" height="10" fill="#c0c0c0"/><rect x="819" y="680" width="1" height="11" fill="#c0c0c0"/><rect x="823" y="680" width="1" height="12" fill="#c0c0c0"/><rect x="827" y="680" width="1" height="13" fill="#c0c0c0"/><rect x="831" y="680" width="1" height="14" fill="#c0c0c0"/><rect x="835" y="680" width="1" height="14" fill="#c0c0c0"/><rect x="839" y="680" width="1" height="13" fill="#c0c0c0"/><rect x="843" y="680" width="1" height="12" fill="#c0c0c0"/><rect x="847" y="680" width="1" height="8" fill="#c0c0c0"/><rect x="851" y="680" width="1" height="4" fill="#c0c0c0"/><rect x="855" y="680" width="1" height="1" fill="#c0c0c0"/><rect x="859" y="679" width="1" height="2" fill="#c0c0c0"/><rect x="863" y="680" width="1" height="1" fill="#c0c0c0"/><rect x="867" y="680" width="1" height="4" fill="#c0c0c0"/><rect x="871" y="680" width="1" height="6" fill="#c0c0c0"/><rect x="875" y="680" width="1" height="5" fill="#c0c0c0"/><rect x="879" y="680" width="1" height="6" fill="#c0c0c0"/><rect x="883" y="680" width="1" height="7" fill="#c0c0c0"/><rect x="887" y="680" width="1" height="6" fill="#c0c0c0"/><rect x="891" y="680" width="1" height="7" fill="#c0c0c0"/><rect x="895" y="680" width="1" height="8" fill="#c0c0c0"/><rect x="899" y="680" width="1" height="8" fill="#c0c0c0"/><rect x="903" y="680" width="1" height="9" fill="#c0c0c0"/><rect x="907" y="680" width="1" height="6" fill="#c0c0c0"/><rect x="911" y="680" width="1" height="3" fill="#c0c0c0"/><rect x="915" y="678" width="1" height="3" fill="#c0c0c0"/><rect x="919" y="676" width="1" height="5" fill="#c0c0c0"/><rect x="923" y="677" width="1" height="4" fill="#c0c0c0"/><rect x="927" y="677" width="1" height="4" fill="#c0c0c0"/><rect x="931" y="677" width="1" height="4" fill="#c0c0c0"/><rect x="935" y="675" width="1" height="6" fill="#c0c0c0"/><rect x="939" y="673" width="1" height="8" fill="#c0c0c0"/><rect x="943" y="669" width="1" height="12" fill="#c0c0c0"/><rect x="947" y="665" width="1" height="16" fill="#c0c0c0"/><rect x="951" y="662" width="1" height="19" fill="#c0c0c0"/><rect x="955" y="659" width="1" height="22" fill="#c0c0c0"/><rect x="959" y="656" width="1" height="25" fill="#c0c0c0"/><rect x="963" y="651" width="1" height="30" fill="#c0c0c0"/><rect x="967" y="646" width="1" height="35" fill="#c0c0c0"/><rect x="971" y="643" width="1" height="38" fill="#c0c0c0"/><rect x="975" y="641" width="1" height="40" fill="#c0c0c0"/><rect x="979" y="640" width="1" height="41" fill="#c0c0c0"/><rect x="983" y="638" width="1" height="43" fill="#c0c0c0"/><rect x="987" y="636" width="1" height="45" fill="#c0c0c0"/><rect x="991" y="635" width="1" height="46" fill="#c0c0c0"/><rect x="995" y="639" width="1" height="42" fill="#c0c0c0"/><rect x="999" y="643" width="1" height="38" fill="#c0c0c0"/><rect x="1003" y="645" width="1" height="36" fill="#c0c0c0"/><rect x="1007" y="647" width="1" height="34" fill="#c0c0c0"/><rect x="1011" y="651" width="1" height="30" fill="#c0c0c0"/><rect x="1015" y="654" width="1" height="27" fill="#c0c0c0"/><rect x="1019" y="657" width="1" height="24" fill="#c0c0c0"/><rect x="1023" y="660" width="1" height="21" fill="#c0c0c0"/><rect x="1027" y="661" width="1" height="20" fill="#c0c0c0"/><rect x="1031" y="660" width="1" height="21" fill="#c0c0c0"/><rect x="1035" y="660" width="1" height="21" fill="#c0c0c0"/><rect x="1039" y="663" width="1" height="18" fill="#c0c0c0"/><rect x="1043" y="665" width="1" height="16" fill="#c0c0c0"/><rect x="1047" y="666" width="1" height="15" fill="#c0c0c0"/><rect x="1051" y="668" width="1" height="13" fill="#c0c0c0"/><rect x="1055" y="668" width="1" height="13" fill="#c0c0c0"/><rect x="1059" y="669" width="1" height="12" fill="#c0c0c0"/><rect x="1063" y="669" width="1" height="12" fill="#c0c0c0"/><rect x="1067" y="670" width="1" height="11" fill="#c0c0c0"/><rect x="1071" y="671" width="1" height="10" fill="#c0c0c0"/><rect x="1075" y="670" width="1" height="11" fill="#c0c0c0"/><rect x="1079" y="669" width="1" height="12" fill="#c0c0c0"/><rect x="1083" y="668" width="1" height="13" fill="#c0c0c0"/><rect x="1087" y="668" width="1" height="13" fill="#c0c0c0"/><rect x="1091" y="668" width="1" height="13" fill="#c0c0c0"/><rect x="1095" y="668" width="1" height="13" fill="#c0c0c0"/><rect x="1099" y="667" width="1" height="14" fill="#c0c0c0"/><rect x="1103" y="664" width="1" height="17" fill="#c0c0c0"/><rect x="1107" y="663" width="1" height="18" fill="#c0c0c0"/><rect x="1111" y="661" width="1" height="20" fill="#c0c0c0"/><rect x="1115" y="659" width="1" height="22" fill="#c0c0c0"/><rect x="1119" y="659" width="1" height="22" fill="#c0c0c0"/><rect x="1123" y="658" width="1" height="23" fill="#c0c0c0"/><rect x="1127" y="656" width="1" height="25" fill="#c0c0c0"/><rect x="1131" y="652" width="1" height="29" fill="#c0c0c0"/><rect x="1135" y="649" width="1" height="32" fill="#c0c0c0"/><rect x="1139" y="646" width="1" height="35" fill="#c0c0c0"/><rect x="1143" y="644" width="1" height="37" fill="#c0c0c0"/><rect x="1147" y="639" width="1" height="42" fill="#c0c0c0"/><rect x="1151" y="637" width="1" height="44" fill="#c0c0c0"/><rect x="1155" y="634" width="1" height="47" fill="#c0c0c0"/><rect x="1159" y="632" width="1" height="49" fill="#c0c0c0"/><rect x="1163" y="630" width="1" height="51" fill="#c0c0c0"/><rect x="1167" y="630" width="1" height="51" fill="#c0c0c0"/><rect x="1171" y="632" width="1" height="49" fill="#c0c0c0"/><rect x="1175" y="633" width="1" height="48" fill="#c0c0c0"/><rect x="1179" y="631" width="1" height="50" fill="#c0c0c0"/><rect x="1183" y="631" width="1" height="50" fill="#c0c0c0"/><rect x="1187" y="634" width="1" height="47" fill="#c0c0c0"/><rect x="1191" y="636" width="1" height="45" fill="#c0c0c0"/><rect x="1195" y="640" width="1" height="41" fill="#c0c0c0"/><rect x="1199" y="643" width="1" height="38" fill="#c0c0c0"/><rect x="1203" y="644" width="1" height="37" fill="#c0c0c0"/><rect x="1207" y="646" width="1" height="35" fill="#c0c0c0"/><rect x="1211" y="646" width="1" height="35" fill="#c0c0c0"/><rect x="1215" y="647" width="1" height="34" fill="#c0c0c0"/><rect x="1219" y="647" width="1" height="34" fill="#c0c0c0"/><rect x="1223" y="646" width="1" height="35" fill="#c0c0c0"/><rect x="1227" y="646" width="1" height="35" fill="#c0c0c0"/><rect x="1231" y="648" width="1" height="33" fill="#c0c0c0"/><rect x="1235" y="653" width="1" height="28" fill="#c0c0c0"/><rect x="1239" y="656" width="1" height="25" fill="#c0c0c0"/><rect x="1243" y="658" width="1" height="23" fill="#c0c0c0"/><rect x="1247" y="660" width="1" height="21" fill="#c0c0c0"/><rect x="1251" y="661" width="1" height="20" fill="#c0c0c0"/><rect x="1255" y="663" width="1" height="18" fill="#c0c0c0"/><rect x="1259" y="661" width="1" height="20" fill="#c0c0c0"/><rect x="1263" y="661" width="1" height="20" fill="#c0c0c0"/><rect x="1267" y="661" width="1" height="20" fill="#c0c0c0"/></g>
<polyline points="3.5,689.6 7.5,689.5 11.5,689.7 15.5,690.2 19.5,691.1 23.5,692.1 27.5,693.1 31.5,694.0 35.5,694.8 39.5,695.5 43.5,695.8 47.5,695.7 51.5,695.3 55.5,694.5 59.5,693.4 63.5,692.2 67.5,691.2 71.5,690.3 75.5,689.4 79.5,688.6 83.5,688.0 87.5,687.4 91.5,687.2 95.5,687.1 99.5,687.4 103.5,687.8 107.5,688.4 111.5,689.2 115.5,690.2 119.5,691.1 123.5,691.9 127.5,692.4 131.5,692.7 135.5,692.7 139.5,692.4 143.5,692.1 147.5,691.5 151.5,690.6 155.5,689.4 159.5,688.0 163.5,686.7 167.5,685.4 171.5,684.1 175.5,682.5 179.5,680.5 183.5,678.3 187.5,676.2 191.5,674.3 195.5,672.7 199.5,671.2 203.5,670.0 207.5,669.2 211.5,668.8 215.5,668.8 219.5,669.0 223.5,669.3 227.5,669.5 231.5,669.7 235.5,669.8 239.5,669.9 243.5,670.2 247.5,670.7 251.5,671.5 255.5,672.6 259.5,673.9 263.5,675.6 267.5,677.4 271.5,679.4 275.5,681.1 279.5,682.4 283.5,683.4 287.5,683.9 291.5,684.1 295.5,684.1 299.5,684.0 303.5,683.9 307.5,683.6 311.5,683.6 315.5,683.7 319.5,684.0 323.5,684.3 327.5,684.7 331.5,685.0 335.5,684.9 339.5,684.6 343.5,684.1 347.5,683.5 351.5,682.8 355.5,682.0 359.5,681.1 363.5,680.2 367.5,679.4 371.5,678.6 375.5,677.8 379.5,677.1 383.5,676.3 387.5,675.5 391.5,674.7 395.5,674.2 399.5,674.0 403.5,673.9 407.5,674.1 411.5,674.5 415.5,675.0 419.5,675.4 423.5,675.6 427.5,675.5 431.5,675.0 435.5,674.2 439.5,673.2 443.5,672.3 447.5,671.5 451.5,670.6 455.5,670.1 459.5,670.0 463.5,670.4 467.5,671.2 471.5,672.3 475.5,673.4 479.5,674.5 483.5,675.5 487.5,676.4 491.5,677.4 495.5,678.3 499.5,679.1 503.5,679.8 507.5,680.5 511.5,681.4 515.5,682.4 519.5,683.5 523.5,684.8 527.5,686.1 531.5,687.4 535.5,688.4 539.5,689.2 543.5,689.7 547.5,689.9 551.5,689.9 555.5,689.9 559.5,689.9 563.5,690.0 567.5,690.1 571.5,690.4 575.5,691.1 579.5,692.2 583.5,693.6 587.5,695.2 591.5,696.8 595.5,698.4 599.5,699.9 603.5,701.4 607.5,702.6 611.5,703.6 615.5,704.2 619.5,704.4 623.5,704.2 627.5,703.6 631.5,702.4 635.5,700.7 639.5,698.3 643.5,695.2 647.5,691.4 651.5,687.5 655.5,683.2 659.5,678.3 663.5,673.1 667.5,667.5 671.5,662.2 675.5,657.4 679.5,654.1 683.5,652.1 687.5,651.2 691.5,650.9 695.5,652.2 699.5,655.1 703.5,660.1 707.5,666.5 711.5,673.7 715.5,680.4 719.5,686.7 723.5,692.2 727.5,696.8 731.5,699.9 735.5,701.2 739.5,700.9 743.5,699.3 747.5,697.0 751.5,694.6 755.5,692.6 759.5,690.9 763.5,690.3 767.5,690.2 771.5,690.9 775.5,691.6 779.5,692.3 783.5,692.6 787.5,692.6 791.5,691.9 795.5,691.1 799.5,690.3 803.5,689.5 807.5,688.8 811.5,688.3 815.5,688.1 819.5,688.3 823.5,688.6 827.5,689.3 831.5,690.0 835.5,690.4 839.5,690.8 843.5,691.0 847.5,690.9 851.5,690.2 855.5,689.0 859.5,687.6 863.5,686.3 867.5,685.2 871.5,684.3 875.5,683.5 879.5,682.8 883.5,682.7 887.5,683.0 891.5,683.7 895.5,684.6 899.5,685.4 903.5,685.9 907.5,685.9 911.5,685.6 915.5,684.9 919.5,683.9 923.5,682.9 927.5,681.9 931.5,680.7 935.5,679.3 939.5,677.7 943.5,676.0 947.5,674.1 951.5,672.3 955.5,670.4 959.5,668.1 963.5,665.3 967.5,661.9 971.5,658.3 975.5,654.7 979.5,651.5 983.5,648.4 987.5,645.6 991.5,642.9 995.5,641.0 999.5,640.0 1003.5,639.9 1007.5,640.3 1011.5,641.4 1015.5,643.0 1019.5,645.1 1023.5,647.8 1027.5,650.7 1031.5,653.0 1035.5,654.9 1039.5,657.0 1043.5,659.0 1047.5,660.7 1051.5,662.3 1055.5,663.5 1059.5,664.4 1063.5,665.3 1067.5,666.5 1071.5,667.7 1075.5,668.5 1079.5,669.0 1083.5,669.2 1087.5,669.2 1091.5,669.1 1095.5,669.1 1099.5,668.8 1103.5,668.1 1107.5,667.2 1111.5,666.2 1115.5,665.1 1119.5,664.0 1123.5,662.9 1127.5,661.7 1131.5,659.9 1135.5,657.9 1139.5,655.9 1143.5,653.8 1147.5,651.4 1151.5,648.9 1155.5,646.1 1159.5,643.2 1163.5,640.3 1167.5,637.8 1171.5,635.9 1175.5,634.5 1179.5,633.1 1183.5,632.1 1187.5,631.8 1191.5,632.0 1195.5,632.9 1199.5,634.4 1203.5,636.0 1207.5,637.5 1211.5,639.0 1215.5,640.8 1219.5,642.6 1223.5,644.0 1227.5,645.1 1231.5,646.0 1235.5,647.1 1239.5,648.4 1243.5,649.8 1247.5,651.2 1251.5,652.8 1255.5,654.5 1259.5,656.2 1263.5,657.9 1267.5,659.2" fill="none" stroke="#ff0000" stroke-width="1" stroke-dasharray="3,3" shape-rendering="crispEdges"/>
<text x="7" y="636" font-size="10" fill="#000" stroke="#000" stroke-width="0.2" textLength="148" lengthAdjust="spacingAndGlyphs" >MACD(12,26,9) 0.005325 0.005662</text>
<rect x="1596" y="680" width="2" height="1" fill="#000" />
<text x="1599" y="634.5" font-size="10" fill="#000" stroke="#000" stroke-width="0.2" textLength="38" lengthAdjust="spacingAndGlyphs" >0.014556</text>
<text x="1599" y="684" font-size="10" fill="#000" stroke="#000" stroke-width="0.2" textLength="18" lengthAdjust="spacingAndGlyphs" >0.00</text>
<text x="1599" y="713" font-size="10" fill="#000" stroke="#000" stroke-width="0.2" textLength="42" lengthAdjust="spacingAndGlyphs" >-0.009001</text>
<rect x="3" y="716" width="1" height="3" fill="#000" />
<text x="2" y="728" font-size="10" fill="#000" stroke="#000" stroke-width="0.2" textLength="51.4" lengthAdjust="spacingAndGlyphs" >28 Aug 2019</text>
<rect x="67" y="716" width="1" height="3" fill="#000" />
<text x="66" y="728" font-size="10" fill="#000" stroke="#000" stroke-width="0.2" textLength="51.9" lengthAdjust="spacingAndGlyphs" >16 Sep 2019</text>
<rect x="131" y="716" width="1" height="3" fill="#000" />
<text x="130" y="728" font-size="10" fill="#000" stroke="#000" stroke-width="0.2" textLength="44.8" lengthAdjust="spacingAndGlyphs" >4 Oct 2019</text>
<rect x="195" y="716" width="1" height="3" fill="#000" />
<text x="194" y="728" font-size="10" fill="#000" stroke="#000" stroke-width="0.2" textLength="49.8" lengthAdjust="spacingAndGlyphs" >23 Oct 2019</text>
<rect x="259" y="716" width="1" height="3" fill="#000" />
<text x="258" y="728" font-size="10" fill="#000" stroke="#000" stroke-width="0.2" textLength="51.2" lengthAdjust="spacingAndGlyphs" >11 Nov 2019</text>
<rect x="323" y="716" width="1" height="3" fill="#000" />
<text x="322" y="728" font-size="10" fill="#000" stroke="#000" stroke-width="0.2" textLength="51.9" lengthAdjust="spacingAndGlyphs" >29 Nov 2019</text>
<rect x="387" y="716" width="1" height="3" fill="#000" />
<text x="386" y="728" font-size="10" fill="#000" stroke="#000" stroke-width="0.2" textLength="51.9" lengthAdjust="spacingAndGlyphs" >18 Dec 2019</text>
<rect x="451" y="716" width="1" height="3" fill="#000" />
<text x="450" y="728" font-size="10" fill="#000" stroke="#000" stroke-width="0.2" textLength="45.3" lengthAdjust="spacingAndGlyphs" >6 Jan 2020</text>
<rect x="515" y="716" width="1" height="3" fill="#000" />
<text x="514" y="728" font-size="10" fill="#000" stroke="#000" stroke-width="0.2" textLength="50.4" lengthAdjust="spacingAndGlyphs" >24 Jan 2020</text>
<rect x="579" y="716" width="1" height="3" fill="#000" />
<text x="578" y="728" font-size="10" fill="#000" stroke="#000" stroke-width="0.2" textLength="51.4" lengthAdjust="spacingAndGlyphs" >12 Feb 2020</text>
<rect x="643" y="716" width="1" height="3" fill="#000" />
<text x="642" y="728" font-size="10" fill="#000" stroke="#000" stroke-width="0.2" textLength="46.3" lengthAdjust="spacingAndGlyphs" >2 Mar 2020</text>
<rect x="707" y="716" width="1" height="3" fill="#000" />
<text x="706" y="728" font-size="10" fill="#000" stroke="#000" stroke-width="0.2" textLength="51.4" lengthAdjust="spacingAndGlyphs" >20 Mar 2020</text>
<rect x="771" y="716" width="1" height="3" fill="#000" />
<text x="770" y="728" font-size="10" fill="#000" stroke="#000" stroke-width="0.2" textLength="44.3" lengthAdjust="spacingAndGlyphs" >8 Apr 2020</text>
<rect x="835" y="716" width="1" height="3" fill="#000" />
<text x="834" y="728" font-size="10" fill="#000" stroke="#000" stroke-width="0.2" textLength="49.3" lengthAdjust="spacingAndGlyphs" >27 Apr 2020</text>
<rect x="899" y="716" width="1" height="3" fill="#000" />
<text x="898" y="728" font-size="10" fill="#000" stroke="#000" stroke-width="0.2" textLength="52.9" lengthAdjust="spacingAndGlyphs" >15 May 2020</text>
<rect x="963" y="716" width="1" height="3" fill="#000" />
<text x="962" y="728" font-size="10" fill="#000" stroke="#000" stroke-width="0.2" textLength="45.3" lengthAdjust="spacingAndGlyphs" >3 Jun 2020</text>
<rect x="1027" y="716" width="1" height="3" fill="#000" />
<text x="1026" y="728" font-size="10" fill="#000" stroke="#000" stroke-width="0.2" textLength="50.4" lengthAdjust="spacingAndGlyphs" >22 Jun 2020</text>
<rect x="1091" y="716" width="1" height="3" fill="#000" />
<text x="1090" y="728" font-size="10" fill="#000" stroke="#000" stroke-width="0.2" textLength="47.3" lengthAdjust="spacingAndGlyphs" >10 Jul 2020</text>
<rect x="1155" y="716" width="1" height="3" fill="#000" />
<text x="1154" y="728" font-size="10" fill="#000" stroke="#000" stroke-width="0.2" textLength="47.3" lengthAdjust="spacingAndGlyphs" >29 Jul 2020</text>
<rect x="1219" y="716" width="1" height="3" fill="#000" />
<text x="1218" y="728" font-size="10" fill="#000" stroke="#000" stroke-width="0.2" textLength="51.4" lengthAdjust="spacingAndGlyphs" >17 Aug 2020</text>
<rect x="0" y="736" width="1637" height="1" fill="#d8d8d8" />
<rect x="0" y="737" width="1637" height="22" fill="#f0f0f0" />
<rect x="0" y="738" width="1637" height="1" fill="#000" />
<rect x="4" y="738" width="104" height="19" fill="#ffffff" />
<rect x="4" y="738" width="1" height="19" fill="#000" />
<rect x="107" y="738" width="1" height="19" fill="#000" />
<rect x="4" y="756" width="104" height="1" fill="#000" />
<text x="16.5" y="752.5" font-size="12" fill="#000" textLength="79.5" lengthAdjust="spacingAndGlyphs" >EURUSD,Daily</text>
<text x="118.3" y="752.5" font-size="12" fill="#6e6e6e" textLength="77.9" lengthAdjust="spacingAndGlyphs" >USDCHF,Daily</text>
<rect x="208" y="742" width="1" height="12" fill="#6e6e6e" />
<text x="219.2" y="752.5" font-size="12" fill="#6e6e6e" textLength="81.4" lengthAdjust="spacingAndGlyphs" >AUDUSD,Daily</text>
<rect x="313" y="742" width="1" height="12" fill="#6e6e6e" />
<text x="323.6" y="752.5" font-size="12" fill="#6e6e6e" textLength="80.8" lengthAdjust="spacingAndGlyphs" >USDCAD,Daily</text>
<rect x="416" y="742" width="1" height="12" fill="#6e6e6e" />
<text x="426.2" y="752.5" font-size="12" fill="#6e6e6e" textLength="82.1" lengthAdjust="spacingAndGlyphs" >USDCNH,Daily</text>
<rect x="520" y="742" width="1" height="12" fill="#6e6e6e" />
<text x="532.5" y="752.5" font-size="12" fill="#6e6e6e" textLength="80.1" lengthAdjust="spacingAndGlyphs" >EURUSD,Daily</text>
<rect x="625" y="742" width="1" height="12" fill="#6e6e6e" />
<text x="636" y="752.5" font-size="12" fill="#6e6e6e" textLength="68.3" lengthAdjust="spacingAndGlyphs" >GBPUSD,H4</text>
<rect x="716" y="742" width="1" height="12" fill="#6e6e6e" />
<text x="727.2" y="752.5" font-size="12" fill="#6e6e6e" textLength="69.2" lengthAdjust="spacingAndGlyphs" >XAUUSD,H1</text>
<rect x="808" y="742" width="1" height="12" fill="#6e6e6e" />
<text x="819.6" y="752.5" font-size="12" fill="#6e6e6e" textLength="48.9" lengthAdjust="spacingAndGlyphs" >HK50,H1</text>
<rect x="880" y="742" width="1" height="12" fill="#6e6e6e" />
<text x="891" y="752.5" font-size="12" fill="#6e6e6e" textLength="57.4" lengthAdjust="spacingAndGlyphs" >UK100,H1</text>
<rect x="960" y="742" width="1" height="12" fill="#6e6e6e" />
<text x="970.9" y="752.5" font-size="12" fill="#6e6e6e" textLength="57.6" lengthAdjust="spacingAndGlyphs" >UK100,H1</text>
<rect x="1040" y="742" width="1" height="12" fill="#6e6e6e" />
<text x="1051.5" y="752.5" font-size="12" fill="#6e6e6e" textLength="57.1" lengthAdjust="spacingAndGlyphs" >GER30,H1</text>
<rect x="1121" y="742" width="1" height="12" fill="#6e6e6e" />
<text x="1130" y="752.5" font-size="12" fill="#6e6e6e" textLength="54.4" lengthAdjust="spacingAndGlyphs" >FRA40,H1</text>
<rect x="1196" y="742" width="1" height="12" fill="#6e6e6e" />
<text x="1206" y="752.5" font-size="12" fill="#6e6e6e" textLength="50.5" lengthAdjust="spacingAndGlyphs" >USOil,H4</text>
<rect x="1268" y="742" width="1" height="12" fill="#6e6e6e" />
<text x="1278" y="752.5" font-size="12" fill="#6e6e6e" textLength="62.5" lengthAdjust="spacingAndGlyphs" >USDJPY,H1</text>
<rect x="1352" y="742" width="1" height="12" fill="#6e6e6e" />
<text x="1362.4" y="752.5" font-size="12" fill="#6e6e6e" textLength="58.0" lengthAdjust="spacingAndGlyphs" >DJ30,Daily</text>
<rect x="1432" y="742" width="1" height="12" fill="#6e6e6e" />
<text x="1442" y="752.5" font-size="12" fill="#6e6e6e" textLength="78.2" lengthAdjust="spacingAndGlyphs" >CHINA300,H1</text>
<rect x="1532" y="742" width="1" height="12" fill="#6e6e6e" />
<text x="1542.5" y="752.5" font-size="12" fill="#6e6e6e" textLength="49.7" lengthAdjust="spacingAndGlyphs" >USOil,H1</text>
<rect x="1604" y="742" width="1" height="12" fill="#6e6e6e" />
<path d="M1615 744 L1611 748 L1615 752 Z" fill="#a0a0a0"/>
<path d="M1629 744 L1633 748 L1629 752 Z" fill="#000"/></svg>
</body></html>
